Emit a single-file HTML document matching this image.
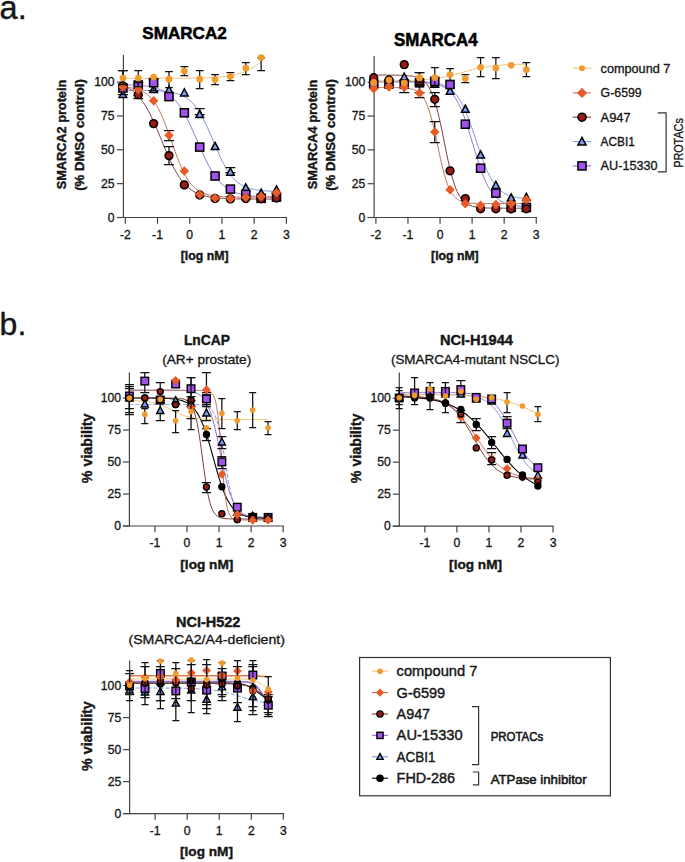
<!DOCTYPE html>
<html><head><meta charset="utf-8"><style>
html,body{margin:0;padding:0;background:#fff;width:685px;height:862px;overflow:hidden}
svg{display:block;font-family:"Liberation Sans",sans-serif}
</style></head><body>
<svg width="685" height="862" viewBox="0 0 685 862" font-family="Liberation Sans, sans-serif">
<rect width="685" height="862" fill="#fff"/>
<text x="-0.4" y="19.4" font-size="32.5" font-weight="normal" text-anchor="start" fill="#161616" stroke="#161616" stroke-width="0.4" >a.</text>
<text x="-0.4" y="335" font-size="32" font-weight="normal" text-anchor="start" fill="#161616" stroke="#161616" stroke-width="0.4" >b.</text>
<text x="184.5" y="39.2" font-size="17" font-weight="bold" text-anchor="middle" fill="#000" stroke="#000" stroke-width="0.55" textLength="84.5" lengthAdjust="spacingAndGlyphs" >SMARCA2</text>
<text transform="translate(66.2 134.5) rotate(-90)" font-size="12.7" font-weight="bold" text-anchor="middle" fill="#161616" stroke="#161616" stroke-width="0.4" textLength="109.5" lengthAdjust="spacingAndGlyphs" >SMARCA2 protein</text>
<text transform="translate(83.7 135) rotate(-90)" font-size="12.7" font-weight="bold" text-anchor="middle" fill="#161616" stroke="#161616" stroke-width="0.4" textLength="111.5" lengthAdjust="spacingAndGlyphs" >(% DMSO control)</text>
<path d="M123.4 55V218.1" stroke="#444" stroke-width="1.2" fill="none"/>
<path d="M116.9 217.5H287" stroke="#444" stroke-width="1.2" fill="none"/>
<path d="M116.9 217.5H123.4" stroke="#444" stroke-width="1.2"/>
<text x="114.6" y="221.5" font-size="12.2" font-weight="normal" text-anchor="end" fill="#161616" stroke="#161616" stroke-width="0.32" >0</text>
<path d="M116.9 183.65H123.4" stroke="#444" stroke-width="1.2"/>
<text x="114.6" y="187.65" font-size="12.2" font-weight="normal" text-anchor="end" fill="#161616" stroke="#161616" stroke-width="0.32" >25</text>
<path d="M116.9 149.8H123.4" stroke="#444" stroke-width="1.2"/>
<text x="114.6" y="153.8" font-size="12.2" font-weight="normal" text-anchor="end" fill="#161616" stroke="#161616" stroke-width="0.32" >50</text>
<path d="M116.9 115.95H123.4" stroke="#444" stroke-width="1.2"/>
<text x="114.6" y="119.95" font-size="12.2" font-weight="normal" text-anchor="end" fill="#161616" stroke="#161616" stroke-width="0.32" >75</text>
<path d="M116.9 82.1H123.4" stroke="#444" stroke-width="1.2"/>
<text x="114.6" y="86.1" font-size="12.2" font-weight="normal" text-anchor="end" fill="#161616" stroke="#161616" stroke-width="0.32" >100</text>
<path d="M125.3 217.5V223.7" stroke="#444" stroke-width="1.2"/>
<text x="125.3" y="238.7" font-size="12.2" font-weight="normal" text-anchor="middle" fill="#161616" stroke="#161616" stroke-width="0.32" >-2</text>
<path d="M157.52 217.5V223.7" stroke="#444" stroke-width="1.2"/>
<text x="157.52" y="238.7" font-size="12.2" font-weight="normal" text-anchor="middle" fill="#161616" stroke="#161616" stroke-width="0.32" >-1</text>
<path d="M189.74 217.5V223.7" stroke="#444" stroke-width="1.2"/>
<text x="189.74" y="238.7" font-size="12.2" font-weight="normal" text-anchor="middle" fill="#161616" stroke="#161616" stroke-width="0.32" >0</text>
<path d="M221.96 217.5V223.7" stroke="#444" stroke-width="1.2"/>
<text x="221.96" y="238.7" font-size="12.2" font-weight="normal" text-anchor="middle" fill="#161616" stroke="#161616" stroke-width="0.32" >1</text>
<path d="M254.18 217.5V223.7" stroke="#444" stroke-width="1.2"/>
<text x="254.18" y="238.7" font-size="12.2" font-weight="normal" text-anchor="middle" fill="#161616" stroke="#161616" stroke-width="0.32" >2</text>
<path d="M286.4 217.5V223.7" stroke="#444" stroke-width="1.2"/>
<text x="286.4" y="238.7" font-size="12.2" font-weight="normal" text-anchor="middle" fill="#161616" stroke="#161616" stroke-width="0.32" >3</text>
<text x="204.6" y="260.3" font-size="12.5" font-weight="bold" text-anchor="middle" fill="#161616" stroke="#161616" stroke-width="0.4" textLength="47.8" lengthAdjust="spacingAndGlyphs" >[log nM]</text>
<path d="M122.9 90.36 L124.19 90.36 L125.48 90.37 L126.77 90.37 L128.06 90.38 L129.35 90.38 L130.64 90.38 L131.94 90.39 L133.23 90.4 L134.52 90.4 L135.81 90.41 L137.1 90.42 L138.39 90.43 L139.68 90.44 L140.97 90.46 L142.26 90.47 L143.55 90.49 L144.84 90.51 L146.13 90.53 L147.42 90.55 L148.72 90.58 L150.01 90.61 L151.3 90.65 L152.59 90.69 L153.88 90.73 L155.17 90.78 L156.46 90.84 L157.75 90.9 L159.04 90.97 L160.33 91.05 L161.62 91.14 L162.91 91.24 L164.2 91.36 L165.49 91.49 L166.79 91.63 L168.08 91.8 L169.37 91.98 L170.66 92.19 L171.95 92.42 L173.24 92.68 L174.53 92.97 L175.82 93.3 L177.11 93.67 L178.4 94.08 L179.69 94.54 L180.98 95.05 L182.27 95.63 L183.57 96.27 L184.86 96.98 L186.15 97.77 L187.44 98.64 L188.73 99.61 L190.02 100.68 L191.31 101.86 L192.6 103.15 L193.89 104.56 L195.18 106.1 L196.47 107.78 L197.76 109.59 L199.05 111.55 L200.35 113.65 L201.64 115.88 L202.93 118.26 L204.22 120.77 L205.51 123.4 L206.8 126.15 L208.09 128.99 L209.38 131.92 L210.67 134.91 L211.96 137.94 L213.25 141 L214.54 144.05 L215.83 147.09 L217.13 150.08 L218.42 153.01 L219.71 155.85 L221 158.6 L222.29 161.23 L223.58 163.74 L224.87 166.11 L226.16 168.35 L227.45 170.45 L228.74 172.41 L230.03 174.22 L231.32 175.9 L232.61 177.44 L233.91 178.85 L235.2 180.15 L236.49 181.32 L237.78 182.39 L239.07 183.36 L240.36 184.24 L241.65 185.03 L242.94 185.74 L244.23 186.38 L245.52 186.95 L246.81 187.47 L248.1 187.93 L249.39 188.34 L250.68 188.71 L251.98 189.04 L253.27 189.33 L254.56 189.59 L255.85 189.82 L257.14 190.03 L258.43 190.21 L259.72 190.38 L261.01 190.52 L262.3 190.65 L263.59 190.76 L264.88 190.87 L266.17 190.96 L267.46 191.04 L268.76 191.11 L270.05 191.17 L271.34 191.23 L272.63 191.28 L273.92 191.32 L275.21 191.36 L276.5 191.4" stroke="#7F98E0" stroke-width="1" fill="none"/>
<path d="M122.9 84.66 L124.19 84.68 L125.48 84.72 L126.77 84.75 L128.06 84.79 L129.35 84.83 L130.64 84.88 L131.94 84.93 L133.23 84.99 L134.52 85.06 L135.81 85.13 L137.1 85.21 L138.39 85.3 L139.68 85.4 L140.97 85.51 L142.26 85.63 L143.55 85.77 L144.84 85.92 L146.13 86.08 L147.42 86.27 L148.72 86.47 L150.01 86.7 L151.3 86.95 L152.59 87.23 L153.88 87.53 L155.17 87.87 L156.46 88.25 L157.75 88.66 L159.04 89.12 L160.33 89.62 L161.62 90.17 L162.91 90.78 L164.2 91.44 L165.49 92.18 L166.79 92.98 L168.08 93.86 L169.37 94.81 L170.66 95.86 L171.95 97 L173.24 98.23 L174.53 99.57 L175.82 101.01 L177.11 102.57 L178.4 104.24 L179.69 106.03 L180.98 107.94 L182.27 109.97 L183.57 112.13 L184.86 114.4 L186.15 116.79 L187.44 119.29 L188.73 121.89 L190.02 124.58 L191.31 127.36 L192.6 130.21 L193.89 133.12 L195.18 136.07 L196.47 139.04 L197.76 142.03 L199.05 145.01 L200.35 147.96 L201.64 150.88 L202.93 153.74 L204.22 156.53 L205.51 159.24 L206.8 161.86 L208.09 164.38 L209.38 166.79 L210.67 169.09 L211.96 171.26 L213.25 173.32 L214.54 175.25 L215.83 177.06 L217.13 178.76 L218.42 180.34 L219.71 181.8 L221 183.16 L222.29 184.41 L223.58 185.56 L224.87 186.63 L226.16 187.6 L227.45 188.49 L228.74 189.31 L230.03 190.05 L231.32 190.73 L232.61 191.35 L233.91 191.91 L235.2 192.42 L236.49 192.89 L237.78 193.31 L239.07 193.69 L240.36 194.03 L241.65 194.35 L242.94 194.63 L244.23 194.88 L245.52 195.12 L246.81 195.32 L248.1 195.51 L249.39 195.68 L250.68 195.83 L251.98 195.97 L253.27 196.1 L254.56 196.21 L255.85 196.31 L257.14 196.4 L258.43 196.48 L259.72 196.56 L261.01 196.62 L262.3 196.68 L263.59 196.74 L264.88 196.79 L266.17 196.83 L267.46 196.87 L268.76 196.91 L270.05 196.94 L271.34 196.97 L272.63 196.99 L273.92 197.02 L275.21 197.04 L276.5 197.06" stroke="#9272D4" stroke-width="1" fill="none"/>
<path d="M122.9 85.6 L124.19 86.1 L125.48 86.66 L126.77 87.27 L128.06 87.94 L129.35 88.68 L130.64 89.49 L131.94 90.37 L133.23 91.35 L134.52 92.41 L135.81 93.56 L137.1 94.82 L138.39 96.18 L139.68 97.66 L140.97 99.25 L142.26 100.97 L143.55 102.81 L144.84 104.78 L146.13 106.88 L147.42 109.1 L148.72 111.46 L150.01 113.94 L151.3 116.54 L152.59 119.26 L153.88 122.07 L155.17 124.99 L156.46 127.98 L157.75 131.03 L159.04 134.14 L160.33 137.28 L161.62 140.44 L162.91 143.59 L164.2 146.72 L165.49 149.82 L166.79 152.86 L168.08 155.83 L169.37 158.72 L170.66 161.51 L171.95 164.2 L173.24 166.77 L174.53 169.21 L175.82 171.54 L177.11 173.73 L178.4 175.8 L179.69 177.73 L180.98 179.54 L182.27 181.22 L183.57 182.79 L184.86 184.23 L186.15 185.57 L187.44 186.8 L188.73 187.93 L190.02 188.96 L191.31 189.91 L192.6 190.78 L193.89 191.57 L195.18 192.29 L196.47 192.94 L197.76 193.54 L199.05 194.08 L200.35 194.57 L201.64 195.01 L202.93 195.41 L204.22 195.78 L205.51 196.11 L206.8 196.4 L208.09 196.67 L209.38 196.91 L210.67 197.13 L211.96 197.33 L213.25 197.51 L214.54 197.67 L215.83 197.81 L217.13 197.94 L218.42 198.06 L219.71 198.16 L221 198.26 L222.29 198.34 L223.58 198.42 L224.87 198.49 L226.16 198.55 L227.45 198.61 L228.74 198.66 L230.03 198.7 L231.32 198.74 L232.61 198.78 L233.91 198.81 L235.2 198.84 L236.49 198.87 L237.78 198.89 L239.07 198.91 L240.36 198.93 L241.65 198.95 L242.94 198.96 L244.23 198.98 L245.52 198.99 L246.81 199 L248.1 199.01 L249.39 199.02 L250.68 199.03 L251.98 199.04 L253.27 199.04 L254.56 199.05 L255.85 199.06 L257.14 199.06 L258.43 199.06 L259.72 199.07 L261.01 199.07 L262.3 199.08 L263.59 199.08 L264.88 199.08 L266.17 199.08 L267.46 199.08 L268.76 199.09 L270.05 199.09 L271.34 199.09 L272.63 199.09 L273.92 199.09 L275.21 199.09 L276.5 199.09" stroke="#7E3E38" stroke-width="1" fill="none"/>
<path d="M122.9 86.91 L124.19 87.01 L125.48 87.13 L126.77 87.26 L128.06 87.41 L129.35 87.58 L130.64 87.78 L131.94 88 L133.23 88.26 L134.52 88.55 L135.81 88.87 L137.1 89.25 L138.39 89.67 L139.68 90.15 L140.97 90.69 L142.26 91.3 L143.55 91.99 L144.84 92.76 L146.13 93.64 L147.42 94.62 L148.72 95.72 L150.01 96.94 L151.3 98.31 L152.59 99.82 L153.88 101.49 L155.17 103.34 L156.46 105.35 L157.75 107.56 L159.04 109.95 L160.33 112.53 L161.62 115.3 L162.91 118.25 L164.2 121.36 L165.49 124.64 L166.79 128.05 L168.08 131.57 L169.37 135.18 L170.66 138.85 L171.95 142.54 L173.24 146.22 L174.53 149.87 L175.82 153.44 L177.11 156.91 L178.4 160.26 L179.69 163.47 L180.98 166.51 L182.27 169.38 L183.57 172.06 L184.86 174.55 L186.15 176.86 L187.44 178.97 L188.73 180.91 L190.02 182.68 L191.31 184.27 L192.6 185.72 L193.89 187.02 L195.18 188.18 L196.47 189.23 L197.76 190.16 L199.05 190.98 L200.35 191.72 L201.64 192.37 L202.93 192.95 L204.22 193.46 L205.51 193.91 L206.8 194.31 L208.09 194.66 L209.38 194.97 L210.67 195.24 L211.96 195.48 L213.25 195.69 L214.54 195.88 L215.83 196.04 L217.13 196.18 L218.42 196.31 L219.71 196.42 L221 196.51 L222.29 196.6 L223.58 196.67 L224.87 196.74 L226.16 196.79 L227.45 196.84 L228.74 196.89 L230.03 196.92 L231.32 196.96 L232.61 196.99 L233.91 197.01 L235.2 197.04 L236.49 197.06 L237.78 197.07 L239.07 197.09 L240.36 197.1 L241.65 197.11 L242.94 197.12 L244.23 197.13 L245.52 197.14 L246.81 197.15 L248.1 197.15 L249.39 197.16 L250.68 197.16 L251.98 197.17 L253.27 197.17 L254.56 197.17 L255.85 197.18 L257.14 197.18 L258.43 197.18 L259.72 197.18 L261.01 197.18 L262.3 197.18 L263.59 197.19 L264.88 197.19 L266.17 197.19 L267.46 197.19 L268.76 197.19 L270.05 197.19 L271.34 197.19 L272.63 197.19 L273.92 197.19 L275.21 197.19 L276.5 197.19" stroke="#C8705A" stroke-width="1" fill="none"/>
<path d="M122.9 78.3 L124.06 78.3 L125.22 78.3 L126.38 78.3 L127.55 78.3 L128.71 78.3 L129.87 78.3 L131.03 78.3 L132.19 78.3 L133.35 78.3 L134.51 78.3 L135.67 78.3 L136.84 78.29 L138 78.29 L139.16 78.29 L140.32 78.29 L141.48 78.29 L142.64 78.29 L143.8 78.29 L144.97 78.29 L146.13 78.29 L147.29 78.29 L148.45 78.29 L149.61 78.29 L150.77 78.29 L151.93 78.29 L153.09 78.28 L154.26 78.28 L155.42 78.28 L156.58 78.28 L157.74 78.28 L158.9 78.28 L160.06 78.27 L161.22 78.27 L162.39 78.27 L163.55 78.27 L164.71 78.27 L165.87 78.26 L167.03 78.26 L168.19 78.26 L169.35 78.25 L170.52 78.25 L171.68 78.25 L172.84 78.24 L174 78.24 L175.16 78.23 L176.32 78.23 L177.48 78.22 L178.64 78.21 L179.81 78.21 L180.97 78.2 L182.13 78.19 L183.29 78.18 L184.45 78.17 L185.61 78.16 L186.77 78.15 L187.94 78.14 L189.1 78.13 L190.26 78.11 L191.42 78.1 L192.58 78.08 L193.74 78.06 L194.9 78.05 L196.06 78.02 L197.23 78 L198.39 77.98 L199.55 77.95 L200.71 77.93 L201.87 77.9 L203.03 77.86 L204.19 77.83 L205.36 77.79 L206.52 77.75 L207.68 77.71 L208.84 77.66 L210 77.61 L211.16 77.55 L212.32 77.49 L213.48 77.43 L214.65 77.36 L215.81 77.28 L216.97 77.2 L218.13 77.12 L219.29 77.02 L220.45 76.92 L221.61 76.81 L222.78 76.69 L223.94 76.57 L225.1 76.43 L226.26 76.29 L227.42 76.13 L228.58 75.96 L229.74 75.78 L230.91 75.58 L232.07 75.37 L233.23 75.14 L234.39 74.9 L235.55 74.64 L236.71 74.36 L237.87 74.06 L239.03 73.73 L240.2 73.39 L241.36 73.02 L242.52 72.62 L243.68 72.2 L244.84 71.75 L246 71.27 L247.16 70.76 L248.33 70.21 L249.49 69.63 L250.65 69.02 L251.81 68.36 L252.97 67.67 L254.13 66.93 L255.29 66.16 L256.45 65.34 L257.62 64.47 L258.78 63.57 L259.94 62.61 L261.1 61.61" stroke="#F0C070" stroke-width="1" fill="none"/>
<path d="M199.7 108.5V114.5M194.7 108.5H204.7M194.7 114.5H204.7" stroke="#111" stroke-width="1.25" fill="none"/>
<path d="M230.42 167.5V172.5M225.42 167.5H235.42M225.42 172.5H235.42" stroke="#111" stroke-width="1.25" fill="none"/>
<path d="M122.9 90.26L126.71 97.42L119.09 97.42Z" fill="#7F9DF7" stroke="#000" stroke-width="1.5" stroke-linejoin="miter"/>
<path d="M138.26 88.06L142.07 95.22L134.45 95.22Z" fill="#7F9DF7" stroke="#000" stroke-width="1.5" stroke-linejoin="miter"/>
<path d="M153.62 85.46L157.43 92.62L149.81 92.62Z" fill="#7F9DF7" stroke="#000" stroke-width="1.5" stroke-linejoin="miter"/>
<path d="M168.98 86.06L172.79 93.22L165.17 93.22Z" fill="#7F9DF7" stroke="#000" stroke-width="1.5" stroke-linejoin="miter"/>
<path d="M184.34 88.76L188.15 95.92L180.53 95.92Z" fill="#7F9DF7" stroke="#000" stroke-width="1.5" stroke-linejoin="miter"/>
<path d="M199.7 110.46L203.51 117.62L195.89 117.62Z" fill="#7F9DF7" stroke="#000" stroke-width="1.5" stroke-linejoin="miter"/>
<path d="M215.06 142.46L218.87 149.62L211.25 149.62Z" fill="#7F9DF7" stroke="#000" stroke-width="1.5" stroke-linejoin="miter"/>
<path d="M230.42 168.06L234.23 175.22L226.61 175.22Z" fill="#7F9DF7" stroke="#000" stroke-width="1.5" stroke-linejoin="miter"/>
<path d="M245.78 183.86L249.59 191.02L241.97 191.02Z" fill="#7F9DF7" stroke="#000" stroke-width="1.5" stroke-linejoin="miter"/>
<path d="M261.14 189.06L264.95 196.22L257.33 196.22Z" fill="#7F9DF7" stroke="#000" stroke-width="1.5" stroke-linejoin="miter"/>
<path d="M276.5 185.86L280.31 193.02L272.69 193.02Z" fill="#7F9DF7" stroke="#000" stroke-width="1.5" stroke-linejoin="miter"/>
<path d="M153.62 78.5V90.5M148.62 78.5H158.62M148.62 90.5H158.62" stroke="#111" stroke-width="1.25" fill="none"/>
<rect x="118.85" y="83.95" width="8.1" height="8.1" fill="#A152EE" stroke="#000" stroke-width="1.5"/>
<rect x="134.21" y="80.95" width="8.1" height="8.1" fill="#A152EE" stroke="#000" stroke-width="1.5"/>
<rect x="149.57" y="78.65" width="8.1" height="8.1" fill="#A152EE" stroke="#000" stroke-width="1.5"/>
<rect x="164.93" y="92.55" width="8.1" height="8.1" fill="#A152EE" stroke="#000" stroke-width="1.5"/>
<rect x="180.29" y="108.75" width="8.1" height="8.1" fill="#A152EE" stroke="#000" stroke-width="1.5"/>
<rect x="195.65" y="143.05" width="8.1" height="8.1" fill="#A152EE" stroke="#000" stroke-width="1.5"/>
<rect x="211.01" y="171.95" width="8.1" height="8.1" fill="#A152EE" stroke="#000" stroke-width="1.5"/>
<rect x="226.37" y="185.05" width="8.1" height="8.1" fill="#A152EE" stroke="#000" stroke-width="1.5"/>
<rect x="241.73" y="190.35" width="8.1" height="8.1" fill="#A152EE" stroke="#000" stroke-width="1.5"/>
<rect x="257.09" y="194.25" width="8.1" height="8.1" fill="#A152EE" stroke="#000" stroke-width="1.5"/>
<rect x="272.45" y="192.95" width="8.1" height="8.1" fill="#A152EE" stroke="#000" stroke-width="1.5"/>
<path d="M122.9 70.5V94.5M117.9 70.5H127.9M117.9 94.5H127.9" stroke="#111" stroke-width="1.25" fill="none"/>
<path d="M138.26 82.5V98.5M133.26 82.5H143.26M133.26 98.5H143.26" stroke="#111" stroke-width="1.25" fill="none"/>
<path d="M168.98 146.5V164.5M163.98 146.5H173.98M163.98 164.5H173.98" stroke="#111" stroke-width="1.25" fill="none"/>
<circle cx="122.9" cy="86" r="3.91" fill="#9A1A16" stroke="#000" stroke-width="1.5"/>
<circle cx="138.26" cy="94.7" r="3.91" fill="#9A1A16" stroke="#000" stroke-width="1.5"/>
<circle cx="153.62" cy="123.6" r="3.91" fill="#9A1A16" stroke="#000" stroke-width="1.5"/>
<circle cx="168.98" cy="155.6" r="3.91" fill="#9A1A16" stroke="#000" stroke-width="1.5"/>
<circle cx="184.34" cy="184.9" r="3.91" fill="#9A1A16" stroke="#000" stroke-width="1.5"/>
<circle cx="199.7" cy="195" r="3.91" fill="#9A1A16" stroke="#000" stroke-width="1.5"/>
<circle cx="215.06" cy="198.5" r="3.91" fill="#9A1A16" stroke="#000" stroke-width="1.5"/>
<circle cx="230.42" cy="199" r="3.91" fill="#9A1A16" stroke="#000" stroke-width="1.5"/>
<circle cx="245.78" cy="198.5" r="3.91" fill="#9A1A16" stroke="#000" stroke-width="1.5"/>
<circle cx="261.14" cy="198.8" r="3.91" fill="#9A1A16" stroke="#000" stroke-width="1.5"/>
<circle cx="276.5" cy="198" r="3.91" fill="#9A1A16" stroke="#000" stroke-width="1.5"/>
<path d="M168.98 130.5V140.5M163.98 130.5H173.98M163.98 140.5H173.98" stroke="#111" stroke-width="1.25" fill="none"/>
<path d="M122.9 82.24L127.66 87L122.9 91.76L118.14 87Z" fill="#E85A28"/>
<path d="M138.26 84.74L143.02 89.5L138.26 94.26L133.5 89.5Z" fill="#E85A28"/>
<path d="M153.62 96.04L158.38 100.8L153.62 105.56L148.86 100.8Z" fill="#E85A28"/>
<path d="M168.98 130.54L173.74 135.3L168.98 140.06L164.22 135.3Z" fill="#E85A28"/>
<path d="M184.34 166.24L189.1 171L184.34 175.76L179.58 171Z" fill="#E85A28"/>
<path d="M199.7 189.64L204.46 194.4L199.7 199.16L194.94 194.4Z" fill="#E85A28"/>
<path d="M215.06 193.24L219.82 198L215.06 202.76L210.3 198Z" fill="#E85A28"/>
<path d="M230.42 193.84L235.18 198.6L230.42 203.36L225.66 198.6Z" fill="#E85A28"/>
<path d="M245.78 192.54L250.54 197.3L245.78 202.06L241.02 197.3Z" fill="#E85A28"/>
<path d="M261.14 191.64L265.9 196.4L261.14 201.16L256.38 196.4Z" fill="#E85A28"/>
<path d="M276.5 188.04L281.26 192.8L276.5 197.56L271.74 192.8Z" fill="#E85A28"/>
<path d="M122.9 70.5V84.5M119 70.5H126.8M119 84.5H126.8" stroke="#111" stroke-width="1.25" fill="none"/>
<path d="M138.26 70.5V86.5M134.36 70.5H142.16M134.36 86.5H142.16" stroke="#111" stroke-width="1.25" fill="none"/>
<path d="M168.98 71.5V87.5M165.08 71.5H172.88M165.08 87.5H172.88" stroke="#111" stroke-width="1.25" fill="none"/>
<path d="M184.34 66.5V75.5M180.44 66.5H188.24M180.44 75.5H188.24" stroke="#111" stroke-width="1.25" fill="none"/>
<path d="M199.7 70.5V88.5M195.8 70.5H203.6M195.8 88.5H203.6" stroke="#111" stroke-width="1.25" fill="none"/>
<path d="M215.06 74.5V84.5M211.16 74.5H218.96M211.16 84.5H218.96" stroke="#111" stroke-width="1.25" fill="none"/>
<path d="M230.42 72.5V80.5M226.52 72.5H234.32M226.52 80.5H234.32" stroke="#111" stroke-width="1.25" fill="none"/>
<path d="M245.78 62.5V74.5M241.88 62.5H249.68M241.88 74.5H249.68" stroke="#111" stroke-width="1.25" fill="none"/>
<path d="M261.14 57.5V70.5M257.24 57.5H265.04M257.24 70.5H265.04" stroke="#111" stroke-width="1.25" fill="none"/>
<circle cx="122.9" cy="78" r="3.36" fill="#F09A2C"/>
<circle cx="138.26" cy="78" r="3.36" fill="#F09A2C"/>
<circle cx="153.62" cy="77" r="3.36" fill="#F09A2C"/>
<circle cx="168.98" cy="79.2" r="3.36" fill="#F09A2C"/>
<circle cx="184.34" cy="71" r="3.36" fill="#F09A2C"/>
<circle cx="199.7" cy="79.2" r="3.36" fill="#F09A2C"/>
<circle cx="215.06" cy="79.6" r="3.36" fill="#F09A2C"/>
<circle cx="230.42" cy="76.3" r="3.36" fill="#F09A2C"/>
<circle cx="245.78" cy="68.1" r="3.36" fill="#F09A2C"/>
<circle cx="261.14" cy="57.6" r="3.36" fill="#F09A2C"/>
<text x="435.8" y="45.6" font-size="17.5" font-weight="bold" text-anchor="middle" fill="#000" stroke="#000" stroke-width="0.55" textLength="83.5" lengthAdjust="spacingAndGlyphs" >SMARCA4</text>
<text transform="translate(317.2 134.5) rotate(-90)" font-size="12.7" font-weight="bold" text-anchor="middle" fill="#161616" stroke="#161616" stroke-width="0.4" textLength="109.5" lengthAdjust="spacingAndGlyphs" >SMARCA4 protein</text>
<text transform="translate(334.7 135) rotate(-90)" font-size="12.7" font-weight="bold" text-anchor="middle" fill="#161616" stroke="#161616" stroke-width="0.4" textLength="111.5" lengthAdjust="spacingAndGlyphs" >(% DMSO control)</text>
<path d="M374.1 56V218.1" stroke="#444" stroke-width="1.2" fill="none"/>
<path d="M367.6 217.5H536.9" stroke="#444" stroke-width="1.2" fill="none"/>
<path d="M367.6 217.5H374.1" stroke="#444" stroke-width="1.2"/>
<text x="365.3" y="221.5" font-size="12.2" font-weight="normal" text-anchor="end" fill="#161616" stroke="#161616" stroke-width="0.32" >0</text>
<path d="M367.6 183.7H374.1" stroke="#444" stroke-width="1.2"/>
<text x="365.3" y="187.7" font-size="12.2" font-weight="normal" text-anchor="end" fill="#161616" stroke="#161616" stroke-width="0.32" >25</text>
<path d="M367.6 149.9H374.1" stroke="#444" stroke-width="1.2"/>
<text x="365.3" y="153.9" font-size="12.2" font-weight="normal" text-anchor="end" fill="#161616" stroke="#161616" stroke-width="0.32" >50</text>
<path d="M367.6 116.1H374.1" stroke="#444" stroke-width="1.2"/>
<text x="365.3" y="120.1" font-size="12.2" font-weight="normal" text-anchor="end" fill="#161616" stroke="#161616" stroke-width="0.32" >75</text>
<path d="M367.6 82.3H374.1" stroke="#444" stroke-width="1.2"/>
<text x="365.3" y="86.3" font-size="12.2" font-weight="normal" text-anchor="end" fill="#161616" stroke="#161616" stroke-width="0.32" >100</text>
<path d="M375.9 217.5V223.7" stroke="#444" stroke-width="1.2"/>
<text x="375.9" y="238.7" font-size="12.2" font-weight="normal" text-anchor="middle" fill="#161616" stroke="#161616" stroke-width="0.32" >-2</text>
<path d="M407.97 217.5V223.7" stroke="#444" stroke-width="1.2"/>
<text x="407.97" y="238.7" font-size="12.2" font-weight="normal" text-anchor="middle" fill="#161616" stroke="#161616" stroke-width="0.32" >-1</text>
<path d="M440.04 217.5V223.7" stroke="#444" stroke-width="1.2"/>
<text x="440.04" y="238.7" font-size="12.2" font-weight="normal" text-anchor="middle" fill="#161616" stroke="#161616" stroke-width="0.32" >0</text>
<path d="M472.11 217.5V223.7" stroke="#444" stroke-width="1.2"/>
<text x="472.11" y="238.7" font-size="12.2" font-weight="normal" text-anchor="middle" fill="#161616" stroke="#161616" stroke-width="0.32" >1</text>
<path d="M504.18 217.5V223.7" stroke="#444" stroke-width="1.2"/>
<text x="504.18" y="238.7" font-size="12.2" font-weight="normal" text-anchor="middle" fill="#161616" stroke="#161616" stroke-width="0.32" >2</text>
<path d="M536.25 217.5V223.7" stroke="#444" stroke-width="1.2"/>
<text x="536.25" y="238.7" font-size="12.2" font-weight="normal" text-anchor="middle" fill="#161616" stroke="#161616" stroke-width="0.32" >3</text>
<text x="454.9" y="260.3" font-size="12.5" font-weight="bold" text-anchor="middle" fill="#161616" stroke="#161616" stroke-width="0.4" textLength="47.6" lengthAdjust="spacingAndGlyphs" >[log nM]</text>
<path d="M373.7 81.2 L374.98 81.2 L376.27 81.2 L377.55 81.2 L378.83 81.2 L380.12 81.2 L381.4 81.21 L382.68 81.21 L383.97 81.21 L385.25 81.21 L386.53 81.21 L387.82 81.21 L389.1 81.21 L390.38 81.22 L391.66 81.22 L392.95 81.22 L394.23 81.22 L395.51 81.23 L396.8 81.23 L398.08 81.24 L399.36 81.24 L400.65 81.25 L401.93 81.26 L403.21 81.26 L404.5 81.27 L405.78 81.28 L407.06 81.29 L408.35 81.31 L409.63 81.32 L410.91 81.34 L412.2 81.36 L413.48 81.38 L414.76 81.41 L416.05 81.44 L417.33 81.48 L418.61 81.51 L419.89 81.56 L421.18 81.61 L422.46 81.67 L423.74 81.73 L425.03 81.81 L426.31 81.9 L427.59 81.99 L428.88 82.11 L430.16 82.23 L431.44 82.38 L432.73 82.54 L434.01 82.73 L435.29 82.95 L436.58 83.19 L437.86 83.47 L439.14 83.78 L440.43 84.14 L441.71 84.54 L442.99 85 L444.28 85.52 L445.56 86.1 L446.84 86.77 L448.13 87.51 L449.41 88.35 L450.69 89.29 L451.97 90.35 L453.26 91.54 L454.54 92.85 L455.82 94.32 L457.11 95.95 L458.39 97.74 L459.67 99.72 L460.96 101.88 L462.24 104.24 L463.52 106.8 L464.81 109.55 L466.09 112.5 L467.37 115.64 L468.66 118.96 L469.94 122.44 L471.22 126.06 L472.51 129.79 L473.79 133.62 L475.07 137.5 L476.36 141.41 L477.64 145.3 L478.92 149.15 L480.21 152.93 L481.49 156.6 L482.77 160.13 L484.05 163.51 L485.34 166.72 L486.62 169.75 L487.9 172.58 L489.19 175.21 L490.47 177.65 L491.75 179.88 L493.04 181.93 L494.32 183.8 L495.6 185.49 L496.89 187.01 L498.17 188.39 L499.45 189.62 L500.74 190.73 L502.02 191.72 L503.3 192.59 L504.59 193.38 L505.87 194.07 L507.15 194.68 L508.44 195.23 L509.72 195.71 L511 196.13 L512.28 196.51 L513.57 196.84 L514.85 197.13 L516.13 197.38 L517.42 197.61 L518.7 197.81 L519.98 197.98 L521.27 198.13 L522.55 198.27 L523.83 198.38 L525.12 198.49 L526.4 198.58" stroke="#7F98E0" stroke-width="1" fill="none"/>
<path d="M373.7 81.96 L374.98 81.96 L376.27 81.97 L377.55 81.97 L378.83 81.97 L380.12 81.97 L381.4 81.97 L382.68 81.97 L383.97 81.97 L385.25 81.97 L386.53 81.97 L387.82 81.97 L389.1 81.98 L390.38 81.98 L391.66 81.98 L392.95 81.98 L394.23 81.99 L395.51 81.99 L396.8 81.99 L398.08 82 L399.36 82 L400.65 82.01 L401.93 82.02 L403.21 82.03 L404.5 82.04 L405.78 82.05 L407.06 82.06 L408.35 82.08 L409.63 82.09 L410.91 82.11 L412.2 82.13 L413.48 82.16 L414.76 82.19 L416.05 82.22 L417.33 82.26 L418.61 82.31 L419.89 82.36 L421.18 82.42 L422.46 82.49 L423.74 82.56 L425.03 82.65 L426.31 82.75 L427.59 82.87 L428.88 83.01 L430.16 83.16 L431.44 83.34 L432.73 83.54 L434.01 83.77 L435.29 84.04 L436.58 84.34 L437.86 84.69 L439.14 85.08 L440.43 85.54 L441.71 86.05 L442.99 86.64 L444.28 87.3 L445.56 88.06 L446.84 88.92 L448.13 89.89 L449.41 90.99 L450.69 92.22 L451.97 93.61 L453.26 95.16 L454.54 96.9 L455.82 98.82 L457.11 100.95 L458.39 103.3 L459.67 105.87 L460.96 108.67 L462.24 111.7 L463.52 114.97 L464.81 118.45 L466.09 122.14 L467.37 126.01 L468.66 130.05 L469.94 134.22 L471.22 138.48 L472.51 142.8 L473.79 147.14 L475.07 151.45 L476.36 155.69 L477.64 159.83 L478.92 163.83 L480.21 167.66 L481.49 171.29 L482.77 174.72 L484.05 177.92 L485.34 180.89 L486.62 183.63 L487.9 186.14 L489.19 188.43 L490.47 190.51 L491.75 192.38 L493.04 194.07 L494.32 195.57 L495.6 196.92 L496.89 198.12 L498.17 199.18 L499.45 200.12 L500.74 200.95 L502.02 201.68 L503.3 202.33 L504.59 202.9 L505.87 203.39 L507.15 203.83 L508.44 204.21 L509.72 204.55 L511 204.84 L512.28 205.1 L513.57 205.32 L514.85 205.52 L516.13 205.69 L517.42 205.84 L518.7 205.97 L519.98 206.08 L521.27 206.18 L522.55 206.26 L523.83 206.34 L525.12 206.4 L526.4 206.46" stroke="#9272D4" stroke-width="1" fill="none"/>
<path d="M373.7 75.08 L374.98 75.08 L376.27 75.08 L377.55 75.09 L378.83 75.09 L380.12 75.09 L381.4 75.09 L382.68 75.09 L383.97 75.1 L385.25 75.1 L386.53 75.1 L387.82 75.11 L389.1 75.11 L390.38 75.12 L391.66 75.13 L392.95 75.14 L394.23 75.15 L395.51 75.17 L396.8 75.19 L398.08 75.21 L399.36 75.24 L400.65 75.27 L401.93 75.31 L403.21 75.36 L404.5 75.43 L405.78 75.5 L407.06 75.59 L408.35 75.69 L409.63 75.82 L410.91 75.98 L412.2 76.17 L413.48 76.4 L414.76 76.67 L416.05 77.01 L417.33 77.41 L418.61 77.89 L419.89 78.47 L421.18 79.17 L422.46 80 L423.74 81 L425.03 82.19 L426.31 83.6 L427.59 85.27 L428.88 87.23 L430.16 89.53 L431.44 92.2 L432.73 95.28 L434.01 98.8 L435.29 102.79 L436.58 107.24 L437.86 112.16 L439.14 117.52 L440.43 123.26 L441.71 129.31 L442.99 135.58 L444.28 141.97 L445.56 148.34 L446.84 154.6 L448.13 160.62 L449.41 166.33 L450.69 171.64 L451.97 176.51 L453.26 180.92 L454.54 184.85 L455.82 188.33 L457.11 191.36 L458.39 193.99 L459.67 196.25 L460.96 198.19 L462.24 199.83 L463.52 201.21 L464.81 202.38 L466.09 203.36 L467.37 204.18 L468.66 204.87 L469.94 205.44 L471.22 205.91 L472.51 206.3 L473.79 206.63 L475.07 206.9 L476.36 207.13 L477.64 207.31 L478.92 207.46 L480.21 207.59 L481.49 207.7 L482.77 207.78 L484.05 207.85 L485.34 207.91 L486.62 207.96 L487.9 208 L489.19 208.04 L490.47 208.06 L491.75 208.09 L493.04 208.1 L494.32 208.12 L495.6 208.13 L496.89 208.14 L498.17 208.15 L499.45 208.16 L500.74 208.17 L502.02 208.17 L503.3 208.17 L504.59 208.18 L505.87 208.18 L507.15 208.18 L508.44 208.18 L509.72 208.19 L511 208.19 L512.28 208.19 L513.57 208.19 L514.85 208.19 L516.13 208.19 L517.42 208.19 L518.7 208.19 L519.98 208.19 L521.27 208.19 L522.55 208.19 L523.83 208.19 L525.12 208.19 L526.4 208.19" stroke="#7E3E38" stroke-width="1" fill="none"/>
<path d="M373.7 87.47 L374.98 87.47 L376.27 87.47 L377.55 87.47 L378.83 87.47 L380.12 87.48 L381.4 87.48 L382.68 87.48 L383.97 87.48 L385.25 87.49 L386.53 87.49 L387.82 87.5 L389.1 87.51 L390.38 87.52 L391.66 87.53 L392.95 87.54 L394.23 87.56 L395.51 87.58 L396.8 87.61 L398.08 87.64 L399.36 87.68 L400.65 87.73 L401.93 87.79 L403.21 87.87 L404.5 87.96 L405.78 88.08 L407.06 88.22 L408.35 88.39 L409.63 88.61 L410.91 88.87 L412.2 89.2 L413.48 89.6 L414.76 90.09 L416.05 90.69 L417.33 91.42 L418.61 92.3 L419.89 93.38 L421.18 94.68 L422.46 96.25 L423.74 98.12 L425.03 100.34 L426.31 102.96 L427.59 106.02 L428.88 109.55 L430.16 113.56 L431.44 118.07 L432.73 123.05 L434.01 128.46 L435.29 134.21 L436.58 140.2 L437.86 146.3 L439.14 152.39 L440.43 158.33 L441.71 164 L442.99 169.3 L444.28 174.17 L445.56 178.55 L446.84 182.44 L448.13 185.85 L449.41 188.79 L450.69 191.31 L451.97 193.44 L453.26 195.23 L454.54 196.72 L455.82 197.96 L457.11 198.99 L458.39 199.83 L459.67 200.53 L460.96 201.1 L462.24 201.56 L463.52 201.94 L464.81 202.25 L466.09 202.5 L467.37 202.7 L468.66 202.87 L469.94 203 L471.22 203.11 L472.51 203.2 L473.79 203.27 L475.07 203.33 L476.36 203.38 L477.64 203.42 L478.92 203.45 L480.21 203.48 L481.49 203.5 L482.77 203.51 L484.05 203.53 L485.34 203.54 L486.62 203.55 L487.9 203.55 L489.19 203.56 L490.47 203.56 L491.75 203.57 L493.04 203.57 L494.32 203.57 L495.6 203.57 L496.89 203.58 L498.17 203.58 L499.45 203.58 L500.74 203.58 L502.02 203.58 L503.3 203.58 L504.59 203.58 L505.87 203.58 L507.15 203.58 L508.44 203.58 L509.72 203.58 L511 203.58 L512.28 203.58 L513.57 203.58 L514.85 203.58 L516.13 203.58 L517.42 203.58 L518.7 203.58 L519.98 203.58 L521.27 203.58 L522.55 203.58 L523.83 203.58 L525.12 203.58 L526.4 203.58" stroke="#C8705A" stroke-width="1" fill="none"/>
<path d="M373.7 80.95 L374.98 80.95 L376.27 80.94 L377.55 80.94 L378.83 80.93 L380.12 80.93 L381.4 80.92 L382.68 80.91 L383.97 80.91 L385.25 80.9 L386.53 80.89 L387.82 80.88 L389.1 80.87 L390.38 80.86 L391.66 80.85 L392.95 80.83 L394.23 80.82 L395.51 80.8 L396.8 80.78 L398.08 80.76 L399.36 80.74 L400.65 80.72 L401.93 80.7 L403.21 80.67 L404.5 80.64 L405.78 80.61 L407.06 80.57 L408.35 80.54 L409.63 80.5 L410.91 80.45 L412.2 80.41 L413.48 80.36 L414.76 80.3 L416.05 80.24 L417.33 80.18 L418.61 80.11 L419.89 80.03 L421.18 79.95 L422.46 79.86 L423.74 79.77 L425.03 79.67 L426.31 79.56 L427.59 79.44 L428.88 79.32 L430.16 79.18 L431.44 79.04 L432.73 78.89 L434.01 78.72 L435.29 78.55 L436.58 78.36 L437.86 78.17 L439.14 77.96 L440.43 77.74 L441.71 77.51 L442.99 77.26 L444.28 77.01 L445.56 76.74 L446.84 76.46 L448.13 76.17 L449.41 75.87 L450.69 75.56 L451.97 75.24 L453.26 74.91 L454.54 74.57 L455.82 74.23 L457.11 73.87 L458.39 73.52 L459.67 73.16 L460.96 72.8 L462.24 72.43 L463.52 72.07 L464.81 71.71 L466.09 71.35 L467.37 70.99 L468.66 70.64 L469.94 70.3 L471.22 69.97 L472.51 69.64 L473.79 69.32 L475.07 69.01 L476.36 68.72 L477.64 68.43 L478.92 68.16 L480.21 67.89 L481.49 67.64 L482.77 67.4 L484.05 67.18 L485.34 66.96 L486.62 66.76 L487.9 66.57 L489.19 66.39 L490.47 66.22 L491.75 66.06 L493.04 65.91 L494.32 65.77 L495.6 65.64 L496.89 65.51 L498.17 65.4 L499.45 65.29 L500.74 65.19 L502.02 65.1 L503.3 65.02 L504.59 64.94 L505.87 64.87 L507.15 64.8 L508.44 64.74 L509.72 64.68 L511 64.62 L512.28 64.57 L513.57 64.53 L514.85 64.49 L516.13 64.45 L517.42 64.41 L518.7 64.38 L519.98 64.35 L521.27 64.32 L522.55 64.29 L523.83 64.27 L525.12 64.25 L526.4 64.23" stroke="#F0C070" stroke-width="1" fill="none"/>
<path d="M373.7 78.06L377.51 85.22L369.89 85.22Z" fill="#7F9DF7" stroke="#000" stroke-width="1.5" stroke-linejoin="miter"/>
<path d="M388.97 78.06L392.78 85.22L385.16 85.22Z" fill="#7F9DF7" stroke="#000" stroke-width="1.5" stroke-linejoin="miter"/>
<path d="M404.24 73.06L408.05 80.22L400.43 80.22Z" fill="#7F9DF7" stroke="#000" stroke-width="1.5" stroke-linejoin="miter"/>
<path d="M419.51 78.06L423.32 85.22L415.7 85.22Z" fill="#7F9DF7" stroke="#000" stroke-width="1.5" stroke-linejoin="miter"/>
<path d="M434.78 80.06L438.59 87.22L430.97 87.22Z" fill="#7F9DF7" stroke="#000" stroke-width="1.5" stroke-linejoin="miter"/>
<path d="M450.05 87.06L453.86 94.22L446.24 94.22Z" fill="#7F9DF7" stroke="#000" stroke-width="1.5" stroke-linejoin="miter"/>
<path d="M465.32 105.16L469.13 112.32L461.51 112.32Z" fill="#7F9DF7" stroke="#000" stroke-width="1.5" stroke-linejoin="miter"/>
<path d="M480.59 150.86L484.4 158.02L476.78 158.02Z" fill="#7F9DF7" stroke="#000" stroke-width="1.5" stroke-linejoin="miter"/>
<path d="M495.86 181.26L499.67 188.42L492.05 188.42Z" fill="#7F9DF7" stroke="#000" stroke-width="1.5" stroke-linejoin="miter"/>
<path d="M511.13 193.96L514.94 201.12L507.32 201.12Z" fill="#7F9DF7" stroke="#000" stroke-width="1.5" stroke-linejoin="miter"/>
<path d="M526.4 193.26L530.21 200.42L522.59 200.42Z" fill="#7F9DF7" stroke="#000" stroke-width="1.5" stroke-linejoin="miter"/>
<rect x="369.65" y="79.95" width="8.1" height="8.1" fill="#A152EE" stroke="#000" stroke-width="1.5"/>
<rect x="384.92" y="79.95" width="8.1" height="8.1" fill="#A152EE" stroke="#000" stroke-width="1.5"/>
<rect x="400.19" y="79.95" width="8.1" height="8.1" fill="#A152EE" stroke="#000" stroke-width="1.5"/>
<rect x="415.46" y="78.75" width="8.1" height="8.1" fill="#A152EE" stroke="#000" stroke-width="1.5"/>
<rect x="430.73" y="77.35" width="8.1" height="8.1" fill="#A152EE" stroke="#000" stroke-width="1.5"/>
<rect x="446" y="80.45" width="8.1" height="8.1" fill="#A152EE" stroke="#000" stroke-width="1.5"/>
<rect x="461.27" y="120.15" width="8.1" height="8.1" fill="#A152EE" stroke="#000" stroke-width="1.5"/>
<rect x="476.54" y="164.15" width="8.1" height="8.1" fill="#A152EE" stroke="#000" stroke-width="1.5"/>
<rect x="491.81" y="189.05" width="8.1" height="8.1" fill="#A152EE" stroke="#000" stroke-width="1.5"/>
<rect x="507.08" y="203.35" width="8.1" height="8.1" fill="#A152EE" stroke="#000" stroke-width="1.5"/>
<rect x="522.35" y="203.35" width="8.1" height="8.1" fill="#A152EE" stroke="#000" stroke-width="1.5"/>
<path d="M419.51 72.5V92.5M414.51 72.5H424.51M414.51 92.5H424.51" stroke="#111" stroke-width="1.25" fill="none"/>
<path d="M434.78 92.5V106.5M429.78 92.5H439.78M429.78 106.5H439.78" stroke="#111" stroke-width="1.25" fill="none"/>
<circle cx="373.7" cy="77.7" r="3.91" fill="#9A1A16" stroke="#000" stroke-width="1.5"/>
<circle cx="388.97" cy="80" r="3.91" fill="#9A1A16" stroke="#000" stroke-width="1.5"/>
<circle cx="404.24" cy="64.6" r="3.91" fill="#9A1A16" stroke="#000" stroke-width="1.5"/>
<circle cx="419.51" cy="82.8" r="3.91" fill="#9A1A16" stroke="#000" stroke-width="1.5"/>
<circle cx="434.78" cy="99.3" r="3.91" fill="#9A1A16" stroke="#000" stroke-width="1.5"/>
<circle cx="450.05" cy="170.8" r="3.91" fill="#9A1A16" stroke="#000" stroke-width="1.5"/>
<circle cx="465.32" cy="198.6" r="3.91" fill="#9A1A16" stroke="#000" stroke-width="1.5"/>
<circle cx="480.59" cy="208.8" r="3.91" fill="#9A1A16" stroke="#000" stroke-width="1.5"/>
<circle cx="495.86" cy="208.8" r="3.91" fill="#9A1A16" stroke="#000" stroke-width="1.5"/>
<circle cx="511.13" cy="208.8" r="3.91" fill="#9A1A16" stroke="#000" stroke-width="1.5"/>
<circle cx="526.4" cy="208.8" r="3.91" fill="#9A1A16" stroke="#000" stroke-width="1.5"/>
<path d="M404.24 80.5V92.5M399.24 80.5H409.24M399.24 92.5H409.24" stroke="#111" stroke-width="1.25" fill="none"/>
<path d="M419.51 84.5V97.5M414.51 84.5H424.51M414.51 97.5H424.51" stroke="#111" stroke-width="1.25" fill="none"/>
<path d="M434.78 121.5V142.5M429.78 121.5H439.78M429.78 142.5H439.78" stroke="#111" stroke-width="1.25" fill="none"/>
<path d="M373.7 83.94L378.46 88.7L373.7 93.46L368.94 88.7Z" fill="#E85A28"/>
<path d="M388.97 82.24L393.73 87L388.97 91.76L384.21 87Z" fill="#E85A28"/>
<path d="M404.24 82.44L409 87.2L404.24 91.96L399.48 87.2Z" fill="#E85A28"/>
<path d="M419.51 88.24L424.27 93L419.51 97.76L414.75 93Z" fill="#E85A28"/>
<path d="M434.78 127.24L439.54 132L434.78 136.76L430.02 132Z" fill="#E85A28"/>
<path d="M450.05 184.94L454.81 189.7L450.05 194.46L445.29 189.7Z" fill="#E85A28"/>
<path d="M465.32 198.94L470.08 203.7L465.32 208.46L460.56 203.7Z" fill="#E85A28"/>
<path d="M480.59 200.44L485.35 205.2L480.59 209.96L475.83 205.2Z" fill="#E85A28"/>
<path d="M495.86 199.74L500.62 204.5L495.86 209.26L491.1 204.5Z" fill="#E85A28"/>
<path d="M511.13 198.94L515.89 203.7L511.13 208.46L506.37 203.7Z" fill="#E85A28"/>
<path d="M526.4 195.04L531.16 199.8L526.4 204.56L521.64 199.8Z" fill="#E85A28"/>
<path d="M419.51 72.5V82.5M415.61 72.5H423.41M415.61 82.5H423.41" stroke="#111" stroke-width="1.25" fill="none"/>
<path d="M434.78 67.5V86.5M430.88 67.5H438.68M430.88 86.5H438.68" stroke="#111" stroke-width="1.25" fill="none"/>
<path d="M450.05 68.5V80.5M446.15 68.5H453.95M446.15 80.5H453.95" stroke="#111" stroke-width="1.25" fill="none"/>
<path d="M465.32 74.5V82.5M461.42 74.5H469.22M461.42 82.5H469.22" stroke="#111" stroke-width="1.25" fill="none"/>
<path d="M480.59 57.5V76.5M476.69 57.5H484.49M476.69 76.5H484.49" stroke="#111" stroke-width="1.25" fill="none"/>
<path d="M495.86 57.5V78.5M491.96 57.5H499.76M491.96 78.5H499.76" stroke="#111" stroke-width="1.25" fill="none"/>
<path d="M526.4 62.5V76.5M522.5 62.5H530.3M522.5 76.5H530.3" stroke="#111" stroke-width="1.25" fill="none"/>
<circle cx="373.7" cy="82.4" r="3.36" fill="#F09A2C"/>
<circle cx="388.97" cy="80" r="3.36" fill="#F09A2C"/>
<circle cx="404.24" cy="82.8" r="3.36" fill="#F09A2C"/>
<circle cx="419.51" cy="77.7" r="3.36" fill="#F09A2C"/>
<circle cx="434.78" cy="77.6" r="3.36" fill="#F09A2C"/>
<circle cx="450.05" cy="74.6" r="3.36" fill="#F09A2C"/>
<circle cx="465.32" cy="78.6" r="3.36" fill="#F09A2C"/>
<circle cx="480.59" cy="67.3" r="3.36" fill="#F09A2C"/>
<circle cx="495.86" cy="68.1" r="3.36" fill="#F09A2C"/>
<circle cx="511.13" cy="65.3" r="3.36" fill="#F09A2C"/>
<circle cx="526.4" cy="69.6" r="3.36" fill="#F09A2C"/>
<path d="M572.8 68.2H591" stroke="#F0C070" stroke-width="1.1"/>
<circle cx="582" cy="68.2" r="3" fill="#F09A2C"/>
<text x="600.6" y="72.5" font-size="12.2" font-weight="normal" text-anchor="start" fill="#161616" stroke="#161616" stroke-width="0.32" textLength="69.7" lengthAdjust="spacingAndGlyphs" >compound 7</text>
<path d="M572.8 92.9H591" stroke="#C8705A" stroke-width="1.1"/>
<path d="M582 87.8L587.1 92.9L582 98L576.9 92.9Z" fill="#E85A28"/>
<text x="600.6" y="97.2" font-size="12.2" font-weight="normal" text-anchor="start" fill="#161616" stroke="#161616" stroke-width="0.32" textLength="41.1" lengthAdjust="spacingAndGlyphs" >G-6599</text>
<path d="M572.8 117.2H591" stroke="#7E3E38" stroke-width="1.1"/>
<circle cx="582" cy="117.2" r="4.05" fill="#9A1A16" stroke="#000" stroke-width="1.5"/>
<text x="600.6" y="121.5" font-size="12.2" font-weight="normal" text-anchor="start" fill="#161616" stroke="#161616" stroke-width="0.32" textLength="30.1" lengthAdjust="spacingAndGlyphs" >A947</text>
<path d="M572.8 141.6H591" stroke="#7F98E0" stroke-width="1.1"/>
<path d="M582 137.41L586.05 145.03L577.95 145.03Z" fill="#7F9DF7" stroke="#000" stroke-width="1.5" stroke-linejoin="miter"/>
<text x="600.6" y="145.9" font-size="12.2" font-weight="normal" text-anchor="start" fill="#161616" stroke="#161616" stroke-width="0.32" textLength="34.2" lengthAdjust="spacingAndGlyphs" >ACBI1</text>
<path d="M572.8 165.9H591" stroke="#9272D4" stroke-width="1.1"/>
<rect x="577.95" y="161.85" width="8.1" height="8.1" fill="#A152EE" stroke="#000" stroke-width="1.5"/>
<text x="600.6" y="170.2" font-size="12.2" font-weight="normal" text-anchor="start" fill="#161616" stroke="#161616" stroke-width="0.32" textLength="57" lengthAdjust="spacingAndGlyphs" >AU-15330</text>
<path d="M657.8 112.9H666.1V171.9H657.8" stroke="#333" stroke-width="1.2" fill="none"/>
<text transform="translate(683.2 143) rotate(-90)" font-size="12.4" font-weight="normal" text-anchor="middle" fill="#161616" stroke="#161616" stroke-width="0.32" textLength="49.6" lengthAdjust="spacingAndGlyphs" >PROTACs</text>
<text x="206.9" y="344.6" font-size="14.2" font-weight="bold" text-anchor="middle" fill="#161616" stroke="#161616" stroke-width="0.4" textLength="46" lengthAdjust="spacingAndGlyphs" >LnCAP</text>
<text x="206.7" y="364.2" font-size="13.2" font-weight="normal" text-anchor="middle" fill="#161616" stroke="#161616" stroke-width="0.32" textLength="89" lengthAdjust="spacingAndGlyphs" >(AR+ prostate)</text>
<path d="M129.4 372.6V526.6" stroke="#444" stroke-width="1.2" fill="none"/>
<path d="M122.9 526H284" stroke="#444" stroke-width="1.2" fill="none"/>
<path d="M122.9 526H129.4" stroke="#444" stroke-width="1.2"/>
<text x="121" y="530" font-size="12.2" font-weight="normal" text-anchor="end" fill="#161616" stroke="#161616" stroke-width="0.32" >0</text>
<path d="M122.9 494H129.4" stroke="#444" stroke-width="1.2"/>
<text x="121" y="498" font-size="12.2" font-weight="normal" text-anchor="end" fill="#161616" stroke="#161616" stroke-width="0.32" >25</text>
<path d="M122.9 462H129.4" stroke="#444" stroke-width="1.2"/>
<text x="121" y="466" font-size="12.2" font-weight="normal" text-anchor="end" fill="#161616" stroke="#161616" stroke-width="0.32" >50</text>
<path d="M122.9 430H129.4" stroke="#444" stroke-width="1.2"/>
<text x="121" y="434" font-size="12.2" font-weight="normal" text-anchor="end" fill="#161616" stroke="#161616" stroke-width="0.32" >75</text>
<path d="M122.9 398H129.4" stroke="#444" stroke-width="1.2"/>
<text x="121" y="402" font-size="12.2" font-weight="normal" text-anchor="end" fill="#161616" stroke="#161616" stroke-width="0.32" >100</text>
<path d="M154.94 526V532.2" stroke="#444" stroke-width="1.2"/>
<text x="154.94" y="546.9" font-size="12.2" font-weight="normal" text-anchor="middle" fill="#161616" stroke="#161616" stroke-width="0.32" >-1</text>
<path d="M186.99 526V532.2" stroke="#444" stroke-width="1.2"/>
<text x="186.99" y="546.9" font-size="12.2" font-weight="normal" text-anchor="middle" fill="#161616" stroke="#161616" stroke-width="0.32" >0</text>
<path d="M219.04 526V532.2" stroke="#444" stroke-width="1.2"/>
<text x="219.04" y="546.9" font-size="12.2" font-weight="normal" text-anchor="middle" fill="#161616" stroke="#161616" stroke-width="0.32" >1</text>
<path d="M251.09 526V532.2" stroke="#444" stroke-width="1.2"/>
<text x="251.09" y="546.9" font-size="12.2" font-weight="normal" text-anchor="middle" fill="#161616" stroke="#161616" stroke-width="0.32" >2</text>
<path d="M283.14 526V532.2" stroke="#444" stroke-width="1.2"/>
<text x="283.14" y="546.9" font-size="12.2" font-weight="normal" text-anchor="middle" fill="#161616" stroke="#161616" stroke-width="0.32" >3</text>
<text transform="translate(92 448.3) rotate(-90)" font-size="14.4" font-weight="bold" text-anchor="middle" fill="#161616" stroke="#161616" stroke-width="0.4" textLength="69.7" lengthAdjust="spacingAndGlyphs" >% viability</text>
<text x="206.8" y="569.1" font-size="13.6" font-weight="bold" text-anchor="middle" fill="#161616" stroke="#161616" stroke-width="0.4" textLength="53" lengthAdjust="spacingAndGlyphs" >[log nM]</text>
<path d="M129.4 404.5 L130.57 404.5 L131.73 404.5 L132.9 404.5 L134.06 404.5 L135.23 404.5 L136.39 404.5 L137.56 404.5 L138.72 404.5 L139.89 404.5 L141.06 404.5 L142.22 404.5 L143.39 404.5 L144.55 404.5 L145.72 404.5 L146.88 404.5 L148.05 404.5 L149.21 404.5 L150.38 404.5 L151.55 404.5 L152.71 404.5 L153.88 404.5 L155.04 404.5 L156.21 404.5 L157.37 404.5 L158.54 404.5 L159.7 404.5 L160.87 404.5 L162.04 404.5 L163.2 404.5 L164.37 404.5 L165.53 404.5 L166.7 404.5 L167.86 404.5 L169.03 404.5 L170.19 404.5 L171.36 404.5 L172.53 404.5 L173.69 404.5 L174.86 404.5 L176.02 404.5 L177.19 404.5 L178.35 404.5 L179.52 404.5 L180.68 404.51 L181.85 404.51 L183.02 404.51 L184.18 404.51 L185.35 404.52 L186.51 404.52 L187.68 404.53 L188.84 404.54 L190.01 404.55 L191.17 404.56 L192.34 404.58 L193.51 404.6 L194.67 404.63 L195.84 404.67 L197 404.72 L198.17 404.79 L199.33 404.87 L200.5 404.98 L201.66 405.13 L202.83 405.31 L203.99 405.55 L205.16 405.85 L206.33 406.25 L207.49 406.75 L208.66 407.4 L209.82 408.23 L210.99 409.29 L212.15 410.62 L213.32 412.31 L214.48 414.41 L215.65 417.02 L216.82 420.2 L217.98 424.04 L219.15 428.58 L220.31 433.84 L221.48 439.8 L222.64 446.35 L223.81 453.35 L224.97 460.59 L226.14 467.84 L227.31 474.85 L228.47 481.43 L229.64 487.41 L230.8 492.71 L231.97 497.28 L233.13 501.14 L234.3 504.36 L235.46 506.98 L236.63 509.11 L237.8 510.81 L238.96 512.16 L240.13 513.23 L241.29 514.07 L242.46 514.72 L243.62 515.23 L244.79 515.63 L245.95 515.94 L247.12 516.18 L248.29 516.37 L249.45 516.51 L250.62 516.62 L251.78 516.71 L252.95 516.77 L254.11 516.83 L255.28 516.87 L256.44 516.9 L257.61 516.92 L258.78 516.94 L259.94 516.95 L261.11 516.96 L262.27 516.97 L263.44 516.98 L264.6 516.98 L265.77 516.99 L266.93 516.99 L268.1 516.99" stroke="#7F98E0" stroke-width="1" fill="none" stroke-dasharray="4 2"/>
<path d="M129.4 390 L130.57 390 L131.73 390 L132.9 390 L134.06 390 L135.23 390 L136.39 390 L137.56 390 L138.72 390 L139.89 390 L141.06 390 L142.22 390 L143.39 390 L144.55 390 L145.72 390 L146.88 390 L148.05 390 L149.21 390 L150.38 390 L151.55 390 L152.71 390 L153.88 390 L155.04 390.01 L156.21 390.01 L157.37 390.01 L158.54 390.01 L159.7 390.01 L160.87 390.01 L162.04 390.02 L163.2 390.02 L164.37 390.02 L165.53 390.03 L166.7 390.03 L167.86 390.04 L169.03 390.05 L170.19 390.06 L171.36 390.07 L172.53 390.08 L173.69 390.09 L174.86 390.11 L176.02 390.14 L177.19 390.16 L178.35 390.19 L179.52 390.23 L180.68 390.28 L181.85 390.33 L183.02 390.4 L184.18 390.48 L185.35 390.57 L186.51 390.68 L187.68 390.81 L188.84 390.97 L190.01 391.16 L191.17 391.38 L192.34 391.65 L193.51 391.97 L194.67 392.35 L195.84 392.81 L197 393.34 L198.17 393.98 L199.33 394.73 L200.5 395.62 L201.66 396.66 L202.83 397.89 L203.99 399.33 L205.16 401 L206.33 402.94 L207.49 405.18 L208.66 407.75 L209.82 410.67 L210.99 413.96 L212.15 417.65 L213.32 421.73 L214.48 426.19 L215.65 431.01 L216.82 436.15 L217.98 441.55 L219.15 447.14 L220.31 452.83 L221.48 458.54 L222.64 464.17 L223.81 469.64 L224.97 474.87 L226.14 479.8 L227.31 484.38 L228.47 488.58 L229.64 492.39 L230.8 495.81 L231.97 498.85 L233.13 501.53 L234.3 503.87 L235.46 505.91 L236.63 507.66 L237.8 509.17 L238.96 510.46 L240.13 511.56 L241.29 512.5 L242.46 513.29 L243.62 513.97 L244.79 514.53 L245.95 515.01 L247.12 515.41 L248.29 515.75 L249.45 516.03 L250.62 516.27 L251.78 516.47 L252.95 516.64 L254.11 516.78 L255.28 516.9 L256.44 517 L257.61 517.08 L258.78 517.15 L259.94 517.21 L261.11 517.25 L262.27 517.29 L263.44 517.33 L264.6 517.36 L265.77 517.38 L266.93 517.4 L268.1 517.42" stroke="#9272D4" stroke-width="1" fill="none"/>
<path d="M129.4 398 L130.57 398.01 L131.73 398.01 L132.9 398.01 L134.06 398.01 L135.23 398.01 L136.39 398.01 L137.56 398.01 L138.72 398.01 L139.89 398.02 L141.06 398.02 L142.22 398.02 L143.39 398.03 L144.55 398.03 L145.72 398.03 L146.88 398.04 L148.05 398.05 L149.21 398.05 L150.38 398.06 L151.55 398.07 L152.71 398.08 L153.88 398.09 L155.04 398.11 L156.21 398.12 L157.37 398.14 L158.54 398.16 L159.7 398.19 L160.87 398.21 L162.04 398.25 L163.2 398.28 L164.37 398.33 L165.53 398.38 L166.7 398.43 L167.86 398.5 L169.03 398.57 L170.19 398.66 L171.36 398.76 L172.53 398.87 L173.69 399 L174.86 399.15 L176.02 399.32 L177.19 399.52 L178.35 399.74 L179.52 400 L180.68 400.3 L181.85 400.63 L183.02 401.02 L184.18 401.46 L185.35 401.97 L186.51 402.54 L187.68 403.2 L188.84 403.94 L190.01 404.79 L191.17 405.75 L192.34 406.83 L193.51 408.05 L194.67 409.42 L195.84 410.96 L197 412.67 L198.17 414.58 L199.33 416.69 L200.5 419.02 L201.66 421.57 L202.83 424.35 L203.99 427.35 L205.16 430.58 L206.33 434.02 L207.49 437.67 L208.66 441.49 L209.82 445.46 L210.99 449.56 L212.15 453.74 L213.32 457.96 L214.48 462.18 L215.65 466.37 L216.82 470.48 L217.98 474.47 L219.15 478.31 L220.31 481.98 L221.48 485.46 L222.64 488.71 L223.81 491.75 L224.97 494.56 L226.14 497.14 L227.31 499.5 L228.47 501.64 L229.64 503.57 L230.8 505.32 L231.97 506.88 L233.13 508.27 L234.3 509.51 L235.46 510.61 L236.63 511.58 L237.8 512.45 L238.96 513.2 L240.13 513.87 L241.29 514.46 L242.46 514.97 L243.62 515.42 L244.79 515.82 L245.95 516.16 L247.12 516.46 L248.29 516.73 L249.45 516.95 L250.62 517.15 L251.78 517.33 L252.95 517.48 L254.11 517.61 L255.28 517.73 L256.44 517.83 L257.61 517.92 L258.78 517.99 L259.94 518.06 L261.11 518.12 L262.27 518.17 L263.44 518.21 L264.6 518.25 L265.77 518.28 L266.93 518.31 L268.1 518.33" stroke="#000" stroke-width="1.1" fill="none"/>
<path d="M129.4 398 L130.57 398 L131.73 398 L132.9 398 L134.06 398 L135.23 398 L136.39 398 L137.56 398 L138.72 398 L139.89 398 L141.06 398 L142.22 398 L143.39 398 L144.55 398 L145.72 398 L146.88 398 L148.05 398 L149.21 398 L150.38 398 L151.55 398 L152.71 398 L153.88 398 L155.04 398 L156.21 398 L157.37 398 L158.54 398 L159.7 398 L160.87 398 L162.04 398 L163.2 398.01 L164.37 398.01 L165.53 398.01 L166.7 398.02 L167.86 398.02 L169.03 398.03 L170.19 398.04 L171.36 398.05 L172.53 398.07 L173.69 398.09 L174.86 398.12 L176.02 398.16 L177.19 398.22 L178.35 398.29 L179.52 398.39 L180.68 398.52 L181.85 398.69 L183.02 398.92 L184.18 399.23 L185.35 399.64 L186.51 400.18 L187.68 400.9 L188.84 401.85 L190.01 403.1 L191.17 404.73 L192.34 406.84 L193.51 409.55 L194.67 412.97 L195.84 417.23 L197 422.43 L198.17 428.6 L199.33 435.73 L200.5 443.67 L201.66 452.2 L202.83 460.99 L203.99 469.68 L205.16 477.91 L206.33 485.41 L207.49 492.01 L208.66 497.63 L209.82 502.28 L210.99 506.06 L212.15 509.06 L213.32 511.41 L214.48 513.24 L215.65 514.64 L216.82 515.72 L217.98 516.53 L219.15 517.14 L220.31 517.61 L221.48 517.96 L222.64 518.22 L223.81 518.42 L224.97 518.56 L226.14 518.67 L227.31 518.76 L228.47 518.82 L229.64 518.86 L230.8 518.9 L231.97 518.92 L233.13 518.94 L234.3 518.96 L235.46 518.97 L236.63 518.98 L237.8 518.98 L238.96 518.99 L240.13 518.99 L241.29 518.99 L242.46 518.99 L243.62 519 L244.79 519 L245.95 519 L247.12 519 L248.29 519 L249.45 519 L250.62 519 L251.78 519 L252.95 519 L254.11 519 L255.28 519 L256.44 519 L257.61 519 L258.78 519 L259.94 519 L261.11 519 L262.27 519 L263.44 519 L264.6 519 L265.77 519 L266.93 519 L268.1 519" stroke="#7E3E38" stroke-width="1" fill="none"/>
<path d="M129.4 390.4 L130.57 390.4 L131.73 390.4 L132.9 390.4 L134.06 390.4 L135.23 390.4 L136.39 390.4 L137.56 390.4 L138.72 390.4 L139.89 390.4 L141.06 390.4 L142.22 390.4 L143.39 390.4 L144.55 390.4 L145.72 390.4 L146.88 390.4 L148.05 390.4 L149.21 390.4 L150.38 390.4 L151.55 390.4 L152.71 390.4 L153.88 390.4 L155.04 390.4 L156.21 390.4 L157.37 390.4 L158.54 390.4 L159.7 390.4 L160.87 390.4 L162.04 390.4 L163.2 390.4 L164.37 390.4 L165.53 390.4 L166.7 390.4 L167.86 390.4 L169.03 390.4 L170.19 390.4 L171.36 390.4 L172.53 390.4 L173.69 390.4 L174.86 390.4 L176.02 390.4 L177.19 390.4 L178.35 390.4 L179.52 390.4 L180.68 390.4 L181.85 390.4 L183.02 390.4 L184.18 390.4 L185.35 390.4 L186.51 390.4 L187.68 390.4 L188.84 390.4 L190.01 390.4 L191.17 390.4 L192.34 390.4 L193.51 390.4 L194.67 390.4 L195.84 390.4 L197 390.41 L198.17 390.41 L199.33 390.42 L200.5 390.43 L201.66 390.45 L202.83 390.47 L203.99 390.52 L205.16 390.59 L206.33 390.7 L207.49 390.88 L208.66 391.16 L209.82 391.6 L210.99 392.31 L212.15 393.41 L213.32 395.13 L214.48 397.79 L215.65 401.79 L216.82 407.65 L217.98 415.89 L219.15 426.77 L220.31 440.09 L221.48 454.92 L222.64 469.77 L223.81 483.17 L224.97 494.16 L226.14 502.48 L227.31 508.43 L228.47 512.49 L229.64 515.18 L230.8 516.94 L231.97 518.06 L233.13 518.78 L234.3 519.23 L235.46 519.52 L236.63 519.7 L237.8 519.81 L238.96 519.88 L240.13 519.92 L241.29 519.95 L242.46 519.97 L243.62 519.98 L244.79 519.99 L245.95 519.99 L247.12 520 L248.29 520 L249.45 520 L250.62 520 L251.78 520 L252.95 520 L254.11 520 L255.28 520 L256.44 520 L257.61 520 L258.78 520 L259.94 520 L261.11 520 L262.27 520 L263.44 520 L264.6 520 L265.77 520 L266.93 520 L268.1 520" stroke="#C8705A" stroke-width="1" fill="none"/>
<path d="M129.4 400.67 L130.57 400.69 L131.73 400.71 L132.9 400.74 L134.06 400.78 L135.23 400.81 L136.39 400.86 L137.56 400.9 L138.72 400.96 L139.89 401.02 L141.06 401.09 L142.22 401.17 L143.39 401.26 L144.55 401.36 L145.72 401.47 L146.88 401.6 L148.05 401.74 L149.21 401.9 L150.38 402.08 L151.55 402.27 L152.71 402.49 L153.88 402.74 L155.04 403.01 L156.21 403.3 L157.37 403.63 L158.54 403.98 L159.7 404.36 L160.87 404.78 L162.04 405.22 L163.2 405.69 L164.37 406.2 L165.53 406.73 L166.7 407.28 L167.86 407.85 L169.03 408.45 L170.19 409.05 L171.36 409.66 L172.53 410.28 L173.69 410.89 L174.86 411.49 L176.02 412.09 L177.19 412.66 L178.35 413.22 L179.52 413.75 L180.68 414.26 L181.85 414.73 L183.02 415.18 L184.18 415.6 L185.35 415.99 L186.51 416.34 L187.68 416.67 L188.84 416.97 L190.01 417.24 L191.17 417.48 L192.34 417.7 L193.51 417.9 L194.67 418.08 L195.84 418.24 L197 418.39 L198.17 418.52 L199.33 418.63 L200.5 418.73 L201.66 418.82 L202.83 418.9 L203.99 418.97 L205.16 419.03 L206.33 419.09 L207.49 419.14 L208.66 419.18 L209.82 419.22 L210.99 419.25 L212.15 419.28 L213.32 419.31 L214.48 419.33 L215.65 419.35 L216.82 419.37 L217.98 419.39 L219.15 419.4 L220.31 419.41 L221.48 419.42 L222.64 419.43 L223.81 419.44 L224.97 419.45 L226.14 419.45 L227.31 419.46 L228.47 419.46 L229.64 419.47 L230.8 419.47 L231.97 419.48 L233.13 419.48 L234.3 419.48 L235.46 419.48 L236.63 419.49 L237.8 419.49 L238.96 419.49 L240.13 419.49 L241.29 419.49 L242.46 419.49 L243.62 419.49 L244.79 419.49 L245.95 419.49 L247.12 419.5 L248.29 419.5 L249.45 419.5 L250.62 419.5 L251.78 419.5 L252.95 419.5 L254.11 419.5 L255.28 419.5 L256.44 419.5 L257.61 419.5 L258.78 419.5 L259.94 419.5 L261.11 419.5 L262.27 419.5 L263.44 419.5 L264.6 419.5 L265.77 419.5 L266.93 419.5 L268.1 419.5" stroke="#F0C070" stroke-width="1" fill="none"/>
<path d="M129.4 386.5V412.5M124.9 386.5H133.9M124.9 412.5H133.9" stroke="#111" stroke-width="1.25" fill="none"/>
<path d="M160.22 402.5V420.5M155.72 402.5H164.72M155.72 420.5H164.72" stroke="#111" stroke-width="1.25" fill="none"/>
<path d="M206.45 404.5V420.5M201.95 404.5H210.95M201.95 420.5H210.95" stroke="#111" stroke-width="1.25" fill="none"/>
<path d="M221.86 436.5V448.5M217.36 436.5H226.36M217.36 448.5H226.36" stroke="#111" stroke-width="1.25" fill="none"/>
<path d="M129.4 394.29L132.99 401.04L125.81 401.04Z" fill="#7F9DF7" stroke="#000" stroke-width="1.4" stroke-linejoin="miter"/>
<path d="M144.81 400.19L148.4 406.94L141.22 406.94Z" fill="#7F9DF7" stroke="#000" stroke-width="1.4" stroke-linejoin="miter"/>
<path d="M160.22 406.79L163.81 413.54L156.63 413.54Z" fill="#7F9DF7" stroke="#000" stroke-width="1.4" stroke-linejoin="miter"/>
<path d="M175.63 396.69L179.22 403.44L172.04 403.44Z" fill="#7F9DF7" stroke="#000" stroke-width="1.4" stroke-linejoin="miter"/>
<path d="M191.04 399.29L194.63 406.04L187.45 406.04Z" fill="#7F9DF7" stroke="#000" stroke-width="1.4" stroke-linejoin="miter"/>
<path d="M206.45 409.29L210.04 416.04L202.86 416.04Z" fill="#7F9DF7" stroke="#000" stroke-width="1.4" stroke-linejoin="miter"/>
<path d="M221.86 438.29L225.45 445.04L218.27 445.04Z" fill="#7F9DF7" stroke="#000" stroke-width="1.4" stroke-linejoin="miter"/>
<path d="M237.27 508.29L240.86 515.04L233.68 515.04Z" fill="#7F9DF7" stroke="#000" stroke-width="1.4" stroke-linejoin="miter"/>
<path d="M252.68 512.29L256.27 519.04L249.09 519.04Z" fill="#7F9DF7" stroke="#000" stroke-width="1.4" stroke-linejoin="miter"/>
<path d="M268.09 514.29L271.68 521.04L264.5 521.04Z" fill="#7F9DF7" stroke="#000" stroke-width="1.4" stroke-linejoin="miter"/>
<path d="M144.81 372.5V392.5M140.31 372.5H149.31M140.31 392.5H149.31" stroke="#111" stroke-width="1.25" fill="none"/>
<path d="M191.04 377.5V400.5M186.54 377.5H195.54M186.54 400.5H195.54" stroke="#111" stroke-width="1.25" fill="none"/>
<path d="M206.45 392.5V406.5M201.95 392.5H210.95M201.95 406.5H210.95" stroke="#111" stroke-width="1.25" fill="none"/>
<path d="M221.86 456.5V468.5M217.36 456.5H226.36M217.36 468.5H226.36" stroke="#111" stroke-width="1.25" fill="none"/>
<rect x="125.62" y="392.21" width="7.57" height="7.57" fill="#A152EE" stroke="#000" stroke-width="1.4"/>
<rect x="141.03" y="377.31" width="7.57" height="7.57" fill="#A152EE" stroke="#000" stroke-width="1.4"/>
<rect x="156.44" y="396.21" width="7.57" height="7.57" fill="#A152EE" stroke="#000" stroke-width="1.4"/>
<rect x="171.84" y="380.21" width="7.57" height="7.57" fill="#A152EE" stroke="#000" stroke-width="1.4"/>
<rect x="187.26" y="384.91" width="7.57" height="7.57" fill="#A152EE" stroke="#000" stroke-width="1.4"/>
<rect x="202.66" y="395.11" width="7.57" height="7.57" fill="#A152EE" stroke="#000" stroke-width="1.4"/>
<rect x="218.08" y="458.11" width="7.57" height="7.57" fill="#A152EE" stroke="#000" stroke-width="1.4"/>
<rect x="233.49" y="503.41" width="7.57" height="7.57" fill="#A152EE" stroke="#000" stroke-width="1.4"/>
<rect x="248.9" y="513.62" width="7.57" height="7.57" fill="#A152EE" stroke="#000" stroke-width="1.4"/>
<rect x="264.31" y="513.62" width="7.57" height="7.57" fill="#A152EE" stroke="#000" stroke-width="1.4"/>
<path d="M129.4 388.5V408.5M124.9 388.5H133.9M124.9 408.5H133.9" stroke="#111" stroke-width="1.25" fill="none"/>
<path d="M191.04 396.5V418.5M186.54 396.5H195.54M186.54 418.5H195.54" stroke="#111" stroke-width="1.25" fill="none"/>
<path d="M206.45 428.5V440.5M201.95 428.5H210.95M201.95 440.5H210.95" stroke="#111" stroke-width="1.25" fill="none"/>
<circle cx="129.4" cy="398" r="3" fill="#000" stroke="#000" stroke-width="1.4"/>
<circle cx="144.81" cy="398" r="3" fill="#000" stroke="#000" stroke-width="1.4"/>
<circle cx="160.22" cy="400" r="3" fill="#000" stroke="#000" stroke-width="1.4"/>
<circle cx="175.63" cy="404.5" r="3" fill="#000" stroke="#000" stroke-width="1.4"/>
<circle cx="191.04" cy="401.5" r="3" fill="#000" stroke="#000" stroke-width="1.4"/>
<circle cx="206.45" cy="434.4" r="3" fill="#000" stroke="#000" stroke-width="1.4"/>
<circle cx="221.86" cy="486.7" r="3" fill="#000" stroke="#000" stroke-width="1.4"/>
<circle cx="237.27" cy="519.6" r="3" fill="#000" stroke="#000" stroke-width="1.4"/>
<circle cx="252.68" cy="515.9" r="3" fill="#000" stroke="#000" stroke-width="1.4"/>
<circle cx="268.09" cy="518" r="3" fill="#000" stroke="#000" stroke-width="1.4"/>
<path d="M129.4 384.5V414.5M124.9 384.5H133.9M124.9 414.5H133.9" stroke="#111" stroke-width="1.25" fill="none"/>
<path d="M160.22 382.5V400.5M155.72 382.5H164.72M155.72 400.5H164.72" stroke="#111" stroke-width="1.25" fill="none"/>
<path d="M206.45 482.5V492.5M201.95 482.5H210.95M201.95 492.5H210.95" stroke="#111" stroke-width="1.25" fill="none"/>
<circle cx="129.4" cy="398" r="3" fill="#9A1A16" stroke="#000" stroke-width="1.4"/>
<circle cx="144.81" cy="398" r="3" fill="#9A1A16" stroke="#000" stroke-width="1.4"/>
<circle cx="160.22" cy="391.6" r="3" fill="#9A1A16" stroke="#000" stroke-width="1.4"/>
<circle cx="175.63" cy="404.6" r="3" fill="#9A1A16" stroke="#000" stroke-width="1.4"/>
<circle cx="191.04" cy="400" r="3" fill="#9A1A16" stroke="#000" stroke-width="1.4"/>
<circle cx="206.45" cy="487" r="3" fill="#9A1A16" stroke="#000" stroke-width="1.4"/>
<circle cx="221.86" cy="513.7" r="3" fill="#9A1A16" stroke="#000" stroke-width="1.4"/>
<circle cx="237.27" cy="519.6" r="3" fill="#9A1A16" stroke="#000" stroke-width="1.4"/>
<circle cx="252.68" cy="518" r="3" fill="#9A1A16" stroke="#000" stroke-width="1.4"/>
<circle cx="268.09" cy="519" r="3" fill="#9A1A16" stroke="#000" stroke-width="1.4"/>
<path d="M206.45 372.5V394.5M201.95 372.5H210.95M201.95 394.5H210.95" stroke="#111" stroke-width="1.25" fill="none"/>
<path d="M175.63 376.11L180.03 380.5L175.63 384.89L171.23 380.5Z" fill="#E85A28"/>
<path d="M191.04 403L195.44 407.4L191.04 411.79L186.65 407.4Z" fill="#E85A28"/>
<path d="M206.45 385.31L210.84 389.7L206.45 394.09L202.05 389.7Z" fill="#E85A28"/>
<path d="M221.86 469.91L226.26 474.3L221.86 478.69L217.47 474.3Z" fill="#E85A28"/>
<path d="M237.27 510.11L241.67 514.5L237.27 518.89L232.88 514.5Z" fill="#E85A28"/>
<path d="M252.68 515.9L257.07 520.3L252.68 524.69L248.28 520.3Z" fill="#E85A28"/>
<path d="M268.09 515.61L272.49 520L268.09 524.39L263.7 520Z" fill="#E85A28"/>
<path d="M144.81 408.5V423.5M141.3 408.5H148.32M141.3 423.5H148.32" stroke="#111" stroke-width="1.25" fill="none"/>
<path d="M175.63 410.5V432.5M172.12 410.5H179.14M172.12 432.5H179.14" stroke="#111" stroke-width="1.25" fill="none"/>
<path d="M191.04 377.5V429.5M187.53 377.5H194.55M187.53 429.5H194.55" stroke="#111" stroke-width="1.25" fill="none"/>
<path d="M221.86 398.5V428.5M218.35 398.5H225.37M218.35 428.5H225.37" stroke="#111" stroke-width="1.25" fill="none"/>
<path d="M237.27 411.5V429.5M233.76 411.5H240.78M233.76 429.5H240.78" stroke="#111" stroke-width="1.25" fill="none"/>
<path d="M252.68 392.5V427.5M249.17 392.5H256.19M249.17 427.5H256.19" stroke="#111" stroke-width="1.25" fill="none"/>
<path d="M268.09 421.5V434.5M264.58 421.5H271.6M264.58 434.5H271.6" stroke="#111" stroke-width="1.25" fill="none"/>
<circle cx="129.4" cy="398" r="2.81" fill="#F09A2C"/>
<circle cx="144.81" cy="414.4" r="2.81" fill="#F09A2C"/>
<circle cx="160.22" cy="399.2" r="2.81" fill="#F09A2C"/>
<circle cx="175.63" cy="420.8" r="2.81" fill="#F09A2C"/>
<circle cx="191.04" cy="411.6" r="2.81" fill="#F09A2C"/>
<circle cx="206.45" cy="427.8" r="2.81" fill="#F09A2C"/>
<circle cx="221.86" cy="413.4" r="2.81" fill="#F09A2C"/>
<circle cx="237.27" cy="420.6" r="2.81" fill="#F09A2C"/>
<circle cx="252.68" cy="410" r="2.81" fill="#F09A2C"/>
<circle cx="268.09" cy="427.8" r="2.81" fill="#F09A2C"/>
<text x="476.4" y="344.6" font-size="14.2" font-weight="bold" text-anchor="middle" fill="#161616" stroke="#161616" stroke-width="0.4" textLength="73" lengthAdjust="spacingAndGlyphs" >NCI-H1944</text>
<text x="475.2" y="364.2" font-size="13.2" font-weight="normal" text-anchor="middle" fill="#161616" stroke="#161616" stroke-width="0.32" textLength="168.5" lengthAdjust="spacingAndGlyphs" >(SMARCA4-mutant NSCLC)</text>
<path d="M399.3 372.6V526.8" stroke="#444" stroke-width="1.2" fill="none"/>
<path d="M392.8 526.2H553.6" stroke="#444" stroke-width="1.2" fill="none"/>
<path d="M392.8 526.2H399.3" stroke="#444" stroke-width="1.2"/>
<text x="390.9" y="530.2" font-size="12.2" font-weight="normal" text-anchor="end" fill="#161616" stroke="#161616" stroke-width="0.32" >0</text>
<path d="M392.8 494.2H399.3" stroke="#444" stroke-width="1.2"/>
<text x="390.9" y="498.2" font-size="12.2" font-weight="normal" text-anchor="end" fill="#161616" stroke="#161616" stroke-width="0.32" >25</text>
<path d="M392.8 462.2H399.3" stroke="#444" stroke-width="1.2"/>
<text x="390.9" y="466.2" font-size="12.2" font-weight="normal" text-anchor="end" fill="#161616" stroke="#161616" stroke-width="0.32" >50</text>
<path d="M392.8 430.2H399.3" stroke="#444" stroke-width="1.2"/>
<text x="390.9" y="434.2" font-size="12.2" font-weight="normal" text-anchor="end" fill="#161616" stroke="#161616" stroke-width="0.32" >75</text>
<path d="M392.8 398.2H399.3" stroke="#444" stroke-width="1.2"/>
<text x="390.9" y="402.2" font-size="12.2" font-weight="normal" text-anchor="end" fill="#161616" stroke="#161616" stroke-width="0.32" >100</text>
<path d="M424.84 526.2V532.4" stroke="#444" stroke-width="1.2"/>
<text x="424.84" y="547.1" font-size="12.2" font-weight="normal" text-anchor="middle" fill="#161616" stroke="#161616" stroke-width="0.32" >-1</text>
<path d="M456.89 526.2V532.4" stroke="#444" stroke-width="1.2"/>
<text x="456.89" y="547.1" font-size="12.2" font-weight="normal" text-anchor="middle" fill="#161616" stroke="#161616" stroke-width="0.32" >0</text>
<path d="M488.94 526.2V532.4" stroke="#444" stroke-width="1.2"/>
<text x="488.94" y="547.1" font-size="12.2" font-weight="normal" text-anchor="middle" fill="#161616" stroke="#161616" stroke-width="0.32" >1</text>
<path d="M520.99 526.2V532.4" stroke="#444" stroke-width="1.2"/>
<text x="520.99" y="547.1" font-size="12.2" font-weight="normal" text-anchor="middle" fill="#161616" stroke="#161616" stroke-width="0.32" >2</text>
<path d="M553.04 526.2V532.4" stroke="#444" stroke-width="1.2"/>
<text x="553.04" y="547.1" font-size="12.2" font-weight="normal" text-anchor="middle" fill="#161616" stroke="#161616" stroke-width="0.32" >3</text>
<text transform="translate(360.8 448.4) rotate(-90)" font-size="14.4" font-weight="bold" text-anchor="middle" fill="#161616" stroke="#161616" stroke-width="0.4" textLength="69.7" lengthAdjust="spacingAndGlyphs" >% viability</text>
<text x="475.6" y="569.3" font-size="13.6" font-weight="bold" text-anchor="middle" fill="#161616" stroke="#161616" stroke-width="0.4" textLength="53" lengthAdjust="spacingAndGlyphs" >[log nM]</text>
<path d="M399.2 394.33 L400.37 394.33 L401.53 394.33 L402.7 394.33 L403.86 394.33 L405.03 394.33 L406.19 394.33 L407.36 394.33 L408.52 394.33 L409.69 394.33 L410.86 394.34 L412.02 394.34 L413.19 394.34 L414.35 394.34 L415.52 394.34 L416.68 394.34 L417.85 394.34 L419.01 394.34 L420.18 394.34 L421.35 394.34 L422.51 394.35 L423.68 394.35 L424.84 394.35 L426.01 394.35 L427.17 394.35 L428.34 394.36 L429.5 394.36 L430.67 394.37 L431.84 394.37 L433 394.37 L434.17 394.38 L435.33 394.39 L436.5 394.39 L437.66 394.4 L438.83 394.41 L439.99 394.42 L441.16 394.43 L442.33 394.44 L443.49 394.45 L444.66 394.47 L445.82 394.48 L446.99 394.5 L448.15 394.52 L449.32 394.54 L450.48 394.57 L451.65 394.6 L452.82 394.63 L453.98 394.67 L455.15 394.71 L456.31 394.75 L457.48 394.8 L458.64 394.86 L459.81 394.92 L460.97 394.99 L462.14 395.07 L463.31 395.16 L464.47 395.26 L465.64 395.37 L466.8 395.49 L467.97 395.63 L469.13 395.78 L470.3 395.95 L471.46 396.14 L472.63 396.35 L473.79 396.59 L474.96 396.85 L476.13 397.14 L477.29 397.47 L478.46 397.83 L479.62 398.23 L480.79 398.67 L481.95 399.16 L483.12 399.71 L484.28 400.31 L485.45 400.97 L486.62 401.7 L487.78 402.49 L488.95 403.37 L490.11 404.33 L491.28 405.37 L492.44 406.5 L493.61 407.73 L494.77 409.06 L495.94 410.49 L497.11 412.03 L498.27 413.67 L499.44 415.41 L500.6 417.26 L501.77 419.2 L502.93 421.24 L504.1 423.36 L505.26 425.57 L506.43 427.84 L507.6 430.16 L508.76 432.53 L509.93 434.92 L511.09 437.33 L512.26 439.73 L513.42 442.11 L514.59 444.46 L515.75 446.76 L516.92 449.01 L518.09 451.18 L519.25 453.27 L520.42 455.27 L521.58 457.17 L522.75 458.98 L523.91 460.68 L525.08 462.27 L526.24 463.77 L527.41 465.15 L528.58 466.44 L529.74 467.63 L530.91 468.73 L532.07 469.73 L533.24 470.65 L534.4 471.5 L535.57 472.27 L536.73 472.96 L537.9 473.6" stroke="#7F98E0" stroke-width="1" fill="none"/>
<path d="M399.2 392.4 L400.37 392.4 L401.53 392.4 L402.7 392.4 L403.86 392.4 L405.03 392.4 L406.19 392.4 L407.36 392.4 L408.52 392.4 L409.69 392.4 L410.86 392.4 L412.02 392.4 L413.19 392.41 L414.35 392.41 L415.52 392.41 L416.68 392.41 L417.85 392.41 L419.01 392.41 L420.18 392.41 L421.35 392.41 L422.51 392.41 L423.68 392.42 L424.84 392.42 L426.01 392.42 L427.17 392.42 L428.34 392.42 L429.5 392.43 L430.67 392.43 L431.84 392.43 L433 392.44 L434.17 392.44 L435.33 392.45 L436.5 392.45 L437.66 392.46 L438.83 392.46 L439.99 392.47 L441.16 392.48 L442.33 392.49 L443.49 392.5 L444.66 392.51 L445.82 392.53 L446.99 392.54 L448.15 392.56 L449.32 392.58 L450.48 392.6 L451.65 392.62 L452.82 392.65 L453.98 392.68 L455.15 392.71 L456.31 392.75 L457.48 392.79 L458.64 392.83 L459.81 392.88 L460.97 392.94 L462.14 393 L463.31 393.07 L464.47 393.15 L465.64 393.24 L466.8 393.34 L467.97 393.45 L469.13 393.57 L470.3 393.7 L471.46 393.86 L472.63 394.02 L473.79 394.21 L474.96 394.42 L476.13 394.65 L477.29 394.91 L478.46 395.2 L479.62 395.51 L480.79 395.87 L481.95 396.26 L483.12 396.69 L484.28 397.17 L485.45 397.69 L486.62 398.27 L487.78 398.91 L488.95 399.61 L490.11 400.38 L491.28 401.22 L492.44 402.14 L493.61 403.14 L494.77 404.23 L495.94 405.4 L497.11 406.67 L498.27 408.03 L499.44 409.49 L500.6 411.05 L501.77 412.71 L502.93 414.46 L504.1 416.31 L505.26 418.24 L506.43 420.26 L507.6 422.35 L508.76 424.5 L509.93 426.7 L511.09 428.95 L512.26 431.22 L513.42 433.5 L514.59 435.79 L515.75 438.06 L516.92 440.3 L518.09 442.5 L519.25 444.65 L520.42 446.73 L521.58 448.73 L522.75 450.66 L523.91 452.49 L525.08 454.24 L526.24 455.88 L527.41 457.43 L528.58 458.88 L529.74 460.23 L530.91 461.49 L532.07 462.66 L533.24 463.73 L534.4 464.72 L535.57 465.63 L536.73 466.47 L537.9 467.23" stroke="#9272D4" stroke-width="1" fill="none"/>
<path d="M399.2 395.87 L400.37 395.9 L401.53 395.93 L402.7 395.97 L403.86 396 L405.03 396.04 L406.19 396.09 L407.36 396.14 L408.52 396.19 L409.69 396.25 L410.86 396.31 L412.02 396.37 L413.19 396.45 L414.35 396.52 L415.52 396.61 L416.68 396.7 L417.85 396.8 L419.01 396.91 L420.18 397.02 L421.35 397.15 L422.51 397.29 L423.68 397.44 L424.84 397.6 L426.01 397.77 L427.17 397.96 L428.34 398.16 L429.5 398.38 L430.67 398.62 L431.84 398.88 L433 399.16 L434.17 399.46 L435.33 399.78 L436.5 400.13 L437.66 400.5 L438.83 400.9 L439.99 401.33 L441.16 401.8 L442.33 402.3 L443.49 402.83 L444.66 403.41 L445.82 404.02 L446.99 404.67 L448.15 405.37 L449.32 406.11 L450.48 406.91 L451.65 407.75 L452.82 408.64 L453.98 409.58 L455.15 410.58 L456.31 411.64 L457.48 412.74 L458.64 413.91 L459.81 415.13 L460.97 416.4 L462.14 417.73 L463.31 419.11 L464.47 420.55 L465.64 422.03 L466.8 423.56 L467.97 425.13 L469.13 426.74 L470.3 428.39 L471.46 430.06 L472.63 431.76 L473.79 433.48 L474.96 435.22 L476.13 436.96 L477.29 438.71 L478.46 440.45 L479.62 442.18 L480.79 443.89 L481.95 445.59 L483.12 447.26 L484.28 448.9 L485.45 450.5 L486.62 452.06 L487.78 453.57 L488.95 455.04 L490.11 456.47 L491.28 457.83 L492.44 459.15 L493.61 460.41 L494.77 461.62 L495.94 462.76 L497.11 463.86 L498.27 464.9 L499.44 465.88 L500.6 466.81 L501.77 467.69 L502.93 468.52 L504.1 469.3 L505.26 470.03 L506.43 470.72 L507.6 471.36 L508.76 471.96 L509.93 472.53 L511.09 473.05 L512.26 473.54 L513.42 474 L514.59 474.42 L515.75 474.82 L516.92 475.19 L518.09 475.53 L519.25 475.84 L520.42 476.14 L521.58 476.41 L522.75 476.66 L523.91 476.89 L525.08 477.11 L526.24 477.31 L527.41 477.49 L528.58 477.66 L529.74 477.82 L530.91 477.97 L532.07 478.1 L533.24 478.23 L534.4 478.34 L535.57 478.45 L536.73 478.54 L537.9 478.63" stroke="#C8705A" stroke-width="1" fill="none"/>
<path d="M399.2 396.27 L400.37 396.29 L401.53 396.3 L402.7 396.32 L403.86 396.34 L405.03 396.37 L406.19 396.39 L407.36 396.42 L408.52 396.45 L409.69 396.48 L410.86 396.52 L412.02 396.56 L413.19 396.61 L414.35 396.66 L415.52 396.72 L416.68 396.78 L417.85 396.85 L419.01 396.92 L420.18 397 L421.35 397.09 L422.51 397.19 L423.68 397.3 L424.84 397.43 L426.01 397.56 L427.17 397.71 L428.34 397.87 L429.5 398.05 L430.67 398.24 L431.84 398.46 L433 398.69 L434.17 398.95 L435.33 399.23 L436.5 399.54 L437.66 399.88 L438.83 400.26 L439.99 400.66 L441.16 401.11 L442.33 401.59 L443.49 402.12 L444.66 402.7 L445.82 403.32 L446.99 404 L448.15 404.74 L449.32 405.53 L450.48 406.39 L451.65 407.32 L452.82 408.31 L453.98 409.38 L455.15 410.52 L456.31 411.74 L457.48 413.04 L458.64 414.41 L459.81 415.87 L460.97 417.4 L462.14 419.01 L463.31 420.69 L464.47 422.44 L465.64 424.25 L466.8 426.13 L467.97 428.06 L469.13 430.03 L470.3 432.04 L471.46 434.08 L472.63 436.13 L473.79 438.2 L474.96 440.26 L476.13 442.31 L477.29 444.34 L478.46 446.34 L479.62 448.3 L480.79 450.21 L481.95 452.06 L483.12 453.86 L484.28 455.58 L485.45 457.24 L486.62 458.82 L487.78 460.32 L488.95 461.75 L490.11 463.1 L491.28 464.37 L492.44 465.56 L493.61 466.67 L494.77 467.71 L495.94 468.68 L497.11 469.59 L498.27 470.42 L499.44 471.2 L500.6 471.91 L501.77 472.57 L502.93 473.18 L504.1 473.74 L505.26 474.25 L506.43 474.72 L507.6 475.15 L508.76 475.55 L509.93 475.91 L511.09 476.24 L512.26 476.54 L513.42 476.81 L514.59 477.06 L515.75 477.29 L516.92 477.5 L518.09 477.69 L519.25 477.86 L520.42 478.02 L521.58 478.16 L522.75 478.29 L523.91 478.41 L525.08 478.51 L526.24 478.61 L527.41 478.7 L528.58 478.78 L529.74 478.85 L530.91 478.91 L532.07 478.97 L533.24 479.03 L534.4 479.08 L535.57 479.12 L536.73 479.16 L537.9 479.2" stroke="#7E3E38" stroke-width="1" fill="none"/>
<path d="M399.2 396.73 L400.37 396.77 L401.53 396.82 L402.7 396.87 L403.86 396.92 L405.03 396.98 L406.19 397.04 L407.36 397.1 L408.52 397.17 L409.69 397.24 L410.86 397.32 L412.02 397.4 L413.19 397.48 L414.35 397.57 L415.52 397.67 L416.68 397.77 L417.85 397.88 L419.01 397.99 L420.18 398.11 L421.35 398.24 L422.51 398.37 L423.68 398.52 L424.84 398.67 L426.01 398.83 L427.17 398.99 L428.34 399.17 L429.5 399.36 L430.67 399.56 L431.84 399.77 L433 399.99 L434.17 400.23 L435.33 400.48 L436.5 400.74 L437.66 401.02 L438.83 401.31 L439.99 401.61 L441.16 401.94 L442.33 402.28 L443.49 402.64 L444.66 403.02 L445.82 403.42 L446.99 403.84 L448.15 404.28 L449.32 404.74 L450.48 405.23 L451.65 405.74 L452.82 406.28 L453.98 406.84 L455.15 407.43 L456.31 408.04 L457.48 408.69 L458.64 409.36 L459.81 410.07 L460.97 410.8 L462.14 411.57 L463.31 412.37 L464.47 413.2 L465.64 414.06 L466.8 414.96 L467.97 415.89 L469.13 416.85 L470.3 417.85 L471.46 418.88 L472.63 419.95 L473.79 421.04 L474.96 422.18 L476.13 423.34 L477.29 424.54 L478.46 425.76 L479.62 427.02 L480.79 428.3 L481.95 429.61 L483.12 430.95 L484.28 432.31 L485.45 433.69 L486.62 435.09 L487.78 436.51 L488.95 437.95 L490.11 439.4 L491.28 440.86 L492.44 442.32 L493.61 443.8 L494.77 445.28 L495.94 446.75 L497.11 448.23 L498.27 449.7 L499.44 451.17 L500.6 452.62 L501.77 454.06 L502.93 455.49 L504.1 456.9 L505.26 458.29 L506.43 459.67 L507.6 461.01 L508.76 462.34 L509.93 463.64 L511.09 464.91 L512.26 466.15 L513.42 467.36 L514.59 468.54 L515.75 469.69 L516.92 470.8 L518.09 471.88 L519.25 472.93 L520.42 473.95 L521.58 474.93 L522.75 475.88 L523.91 476.79 L525.08 477.67 L526.24 478.52 L527.41 479.33 L528.58 480.11 L529.74 480.86 L530.91 481.58 L532.07 482.27 L533.24 482.93 L534.4 483.56 L535.57 484.17 L536.73 484.74 L537.9 485.29" stroke="#000" stroke-width="1.1" fill="none"/>
<path d="M399.2 394.15 L400.37 394.15 L401.53 394.16 L402.7 394.16 L403.86 394.16 L405.03 394.17 L406.19 394.17 L407.36 394.18 L408.52 394.18 L409.69 394.19 L410.86 394.2 L412.02 394.2 L413.19 394.21 L414.35 394.21 L415.52 394.22 L416.68 394.23 L417.85 394.24 L419.01 394.25 L420.18 394.25 L421.35 394.26 L422.51 394.27 L423.68 394.28 L424.84 394.3 L426.01 394.31 L427.17 394.32 L428.34 394.33 L429.5 394.34 L430.67 394.36 L431.84 394.37 L433 394.39 L434.17 394.41 L435.33 394.42 L436.5 394.44 L437.66 394.46 L438.83 394.48 L439.99 394.5 L441.16 394.52 L442.33 394.55 L443.49 394.57 L444.66 394.6 L445.82 394.63 L446.99 394.65 L448.15 394.69 L449.32 394.72 L450.48 394.75 L451.65 394.79 L452.82 394.82 L453.98 394.86 L455.15 394.9 L456.31 394.95 L457.48 394.99 L458.64 395.04 L459.81 395.09 L460.97 395.14 L462.14 395.2 L463.31 395.26 L464.47 395.32 L465.64 395.38 L466.8 395.45 L467.97 395.52 L469.13 395.6 L470.3 395.68 L471.46 395.76 L472.63 395.85 L473.79 395.94 L474.96 396.03 L476.13 396.13 L477.29 396.24 L478.46 396.35 L479.62 396.46 L480.79 396.58 L481.95 396.71 L483.12 396.84 L484.28 396.98 L485.45 397.13 L486.62 397.28 L487.78 397.44 L488.95 397.61 L490.11 397.78 L491.28 397.96 L492.44 398.15 L493.61 398.35 L494.77 398.56 L495.94 398.78 L497.11 399.01 L498.27 399.24 L499.44 399.49 L500.6 399.74 L501.77 400.01 L502.93 400.29 L504.1 400.58 L505.26 400.88 L506.43 401.19 L507.6 401.51 L508.76 401.85 L509.93 402.19 L511.09 402.55 L512.26 402.93 L513.42 403.31 L514.59 403.71 L515.75 404.12 L516.92 404.54 L518.09 404.98 L519.25 405.43 L520.42 405.89 L521.58 406.37 L522.75 406.86 L523.91 407.36 L525.08 407.87 L526.24 408.39 L527.41 408.93 L528.58 409.48 L529.74 410.04 L530.91 410.6 L532.07 411.18 L533.24 411.77 L534.4 412.37 L535.57 412.97 L536.73 413.59 L537.9 414.21" stroke="#F0C070" stroke-width="1" fill="none"/>
<path d="M399.2 393.29L402.79 400.04L395.61 400.04Z" fill="#7F9DF7" stroke="#000" stroke-width="1.4" stroke-linejoin="miter"/>
<path d="M414.61 390.29L418.2 397.04L411.02 397.04Z" fill="#7F9DF7" stroke="#000" stroke-width="1.4" stroke-linejoin="miter"/>
<path d="M430.02 390.29L433.61 397.04L426.43 397.04Z" fill="#7F9DF7" stroke="#000" stroke-width="1.4" stroke-linejoin="miter"/>
<path d="M445.43 390.29L449.02 397.04L441.84 397.04Z" fill="#7F9DF7" stroke="#000" stroke-width="1.4" stroke-linejoin="miter"/>
<path d="M460.84 390.29L464.43 397.04L457.25 397.04Z" fill="#7F9DF7" stroke="#000" stroke-width="1.4" stroke-linejoin="miter"/>
<path d="M476.25 395.29L479.84 402.04L472.66 402.04Z" fill="#7F9DF7" stroke="#000" stroke-width="1.4" stroke-linejoin="miter"/>
<path d="M491.66 397.29L495.25 404.04L488.07 404.04Z" fill="#7F9DF7" stroke="#000" stroke-width="1.4" stroke-linejoin="miter"/>
<path d="M507.07 429.79L510.66 436.54L503.48 436.54Z" fill="#7F9DF7" stroke="#000" stroke-width="1.4" stroke-linejoin="miter"/>
<path d="M522.48 451.29L526.07 458.04L518.89 458.04Z" fill="#7F9DF7" stroke="#000" stroke-width="1.4" stroke-linejoin="miter"/>
<path d="M537.89 471.49L541.48 478.24L534.3 478.24Z" fill="#7F9DF7" stroke="#000" stroke-width="1.4" stroke-linejoin="miter"/>
<path d="M460.84 380.5V394.5M456.34 380.5H465.34M456.34 394.5H465.34" stroke="#111" stroke-width="1.25" fill="none"/>
<path d="M507.07 416.5V428.5M502.57 416.5H511.57M502.57 428.5H511.57" stroke="#111" stroke-width="1.25" fill="none"/>
<rect x="395.41" y="394.21" width="7.57" height="7.57" fill="#A152EE" stroke="#000" stroke-width="1.4"/>
<rect x="410.82" y="389.21" width="7.57" height="7.57" fill="#A152EE" stroke="#000" stroke-width="1.4"/>
<rect x="426.23" y="387.61" width="7.57" height="7.57" fill="#A152EE" stroke="#000" stroke-width="1.4"/>
<rect x="441.64" y="387.61" width="7.57" height="7.57" fill="#A152EE" stroke="#000" stroke-width="1.4"/>
<rect x="457.05" y="385.81" width="7.57" height="7.57" fill="#A152EE" stroke="#000" stroke-width="1.4"/>
<rect x="472.46" y="393.61" width="7.57" height="7.57" fill="#A152EE" stroke="#000" stroke-width="1.4"/>
<rect x="487.87" y="395.21" width="7.57" height="7.57" fill="#A152EE" stroke="#000" stroke-width="1.4"/>
<rect x="503.28" y="419.41" width="7.57" height="7.57" fill="#A152EE" stroke="#000" stroke-width="1.4"/>
<rect x="518.7" y="445.21" width="7.57" height="7.57" fill="#A152EE" stroke="#000" stroke-width="1.4"/>
<rect x="534.11" y="463.91" width="7.57" height="7.57" fill="#A152EE" stroke="#000" stroke-width="1.4"/>
<path d="M460.84 410.5V422.5M456.34 410.5H465.34M456.34 422.5H465.34" stroke="#111" stroke-width="1.25" fill="none"/>
<path d="M491.66 452.5V464.5M487.16 452.5H496.16M487.16 464.5H496.16" stroke="#111" stroke-width="1.25" fill="none"/>
<path d="M399.2 393.31L403.59 397.7L399.2 402.09L394.81 397.7Z" fill="#E85A28"/>
<path d="M414.61 392.61L419 397L414.61 401.39L410.22 397Z" fill="#E85A28"/>
<path d="M430.02 392.61L434.41 397L430.02 401.39L425.62 397Z" fill="#E85A28"/>
<path d="M445.43 398.61L449.82 403L445.43 407.39L441.04 403Z" fill="#E85A28"/>
<path d="M460.84 412.5L465.23 416.9L460.84 421.29L456.44 416.9Z" fill="#E85A28"/>
<path d="M476.25 433.61L480.64 438L476.25 442.39L471.86 438Z" fill="#E85A28"/>
<path d="M491.66 454.21L496.05 458.6L491.66 463L487.26 458.6Z" fill="#E85A28"/>
<path d="M507.07 464.21L511.46 468.6L507.07 473L502.68 468.6Z" fill="#E85A28"/>
<path d="M522.48 472.61L526.88 477L522.48 481.39L518.09 477Z" fill="#E85A28"/>
<path d="M537.89 475.5L542.28 479.9L537.89 484.29L533.5 479.9Z" fill="#E85A28"/>
<circle cx="399.2" cy="398" r="3" fill="#9A1A16" stroke="#000" stroke-width="1.4"/>
<circle cx="414.61" cy="397" r="3" fill="#9A1A16" stroke="#000" stroke-width="1.4"/>
<circle cx="430.02" cy="397" r="3" fill="#9A1A16" stroke="#000" stroke-width="1.4"/>
<circle cx="445.43" cy="403" r="3" fill="#9A1A16" stroke="#000" stroke-width="1.4"/>
<circle cx="460.84" cy="414" r="3" fill="#9A1A16" stroke="#000" stroke-width="1.4"/>
<circle cx="476.25" cy="447.9" r="3" fill="#9A1A16" stroke="#000" stroke-width="1.4"/>
<circle cx="491.66" cy="460" r="3" fill="#9A1A16" stroke="#000" stroke-width="1.4"/>
<circle cx="507.07" cy="475.2" r="3" fill="#9A1A16" stroke="#000" stroke-width="1.4"/>
<circle cx="522.48" cy="477" r="3" fill="#9A1A16" stroke="#000" stroke-width="1.4"/>
<circle cx="537.89" cy="482" r="3" fill="#9A1A16" stroke="#000" stroke-width="1.4"/>
<path d="M476.25 418.5V430.5M471.75 418.5H480.75M471.75 430.5H480.75" stroke="#111" stroke-width="1.25" fill="none"/>
<path d="M491.66 436.5V448.5M487.16 436.5H496.16M487.16 448.5H496.16" stroke="#111" stroke-width="1.25" fill="none"/>
<circle cx="399.2" cy="398" r="3" fill="#000" stroke="#000" stroke-width="1.4"/>
<circle cx="414.61" cy="398" r="3" fill="#000" stroke="#000" stroke-width="1.4"/>
<circle cx="430.02" cy="398" r="3" fill="#000" stroke="#000" stroke-width="1.4"/>
<circle cx="445.43" cy="403.2" r="3" fill="#000" stroke="#000" stroke-width="1.4"/>
<circle cx="460.84" cy="409.4" r="3" fill="#000" stroke="#000" stroke-width="1.4"/>
<circle cx="476.25" cy="424.5" r="3" fill="#000" stroke="#000" stroke-width="1.4"/>
<circle cx="491.66" cy="442.4" r="3" fill="#000" stroke="#000" stroke-width="1.4"/>
<circle cx="507.07" cy="459.4" r="3" fill="#000" stroke="#000" stroke-width="1.4"/>
<circle cx="522.48" cy="475" r="3" fill="#000" stroke="#000" stroke-width="1.4"/>
<circle cx="537.89" cy="486" r="3" fill="#000" stroke="#000" stroke-width="1.4"/>
<path d="M399.2 387.5V408.5M395.69 387.5H402.71M395.69 408.5H402.71" stroke="#111" stroke-width="1.25" fill="none"/>
<path d="M399.2 390.5V404.5M395.69 390.5H402.71M395.69 404.5H402.71" stroke="#111" stroke-width="1.25" fill="none"/>
<path d="M414.61 377.5V404.5M411.1 377.5H418.12M411.1 404.5H418.12" stroke="#111" stroke-width="1.25" fill="none"/>
<path d="M430.02 382.5V409.5M426.51 382.5H433.53M426.51 409.5H433.53" stroke="#111" stroke-width="1.25" fill="none"/>
<path d="M445.43 382.5V412.5M441.92 382.5H448.94M441.92 412.5H448.94" stroke="#111" stroke-width="1.25" fill="none"/>
<path d="M507.07 392.5V412.5M503.56 392.5H510.58M503.56 412.5H510.58" stroke="#111" stroke-width="1.25" fill="none"/>
<path d="M537.89 406.5V421.5M534.38 406.5H541.4M534.38 421.5H541.4" stroke="#111" stroke-width="1.25" fill="none"/>
<circle cx="399.2" cy="397.8" r="2.81" fill="#F09A2C"/>
<circle cx="414.61" cy="395.4" r="2.81" fill="#F09A2C"/>
<circle cx="430.02" cy="389" r="2.81" fill="#F09A2C"/>
<circle cx="445.43" cy="396" r="2.81" fill="#F09A2C"/>
<circle cx="460.84" cy="391.4" r="2.81" fill="#F09A2C"/>
<circle cx="476.25" cy="399.3" r="2.81" fill="#F09A2C"/>
<circle cx="491.66" cy="397.6" r="2.81" fill="#F09A2C"/>
<circle cx="507.07" cy="402" r="2.81" fill="#F09A2C"/>
<circle cx="522.48" cy="406" r="2.81" fill="#F09A2C"/>
<circle cx="537.89" cy="414.4" r="2.81" fill="#F09A2C"/>
<text x="208.2" y="626.6" font-size="14.2" font-weight="bold" text-anchor="middle" fill="#161616" stroke="#161616" stroke-width="0.4" textLength="64.4" lengthAdjust="spacingAndGlyphs" >NCI-H522</text>
<text x="206.7" y="644.3" font-size="13.2" font-weight="normal" text-anchor="middle" fill="#161616" stroke="#161616" stroke-width="0.32" textLength="156.5" lengthAdjust="spacingAndGlyphs" >(SMARCA2/A4-deficient)</text>
<path d="M129.6 660.5V814.2" stroke="#444" stroke-width="1.2" fill="none"/>
<path d="M123.1 813.6H284.2" stroke="#444" stroke-width="1.2" fill="none"/>
<path d="M123.1 813.6H129.6" stroke="#444" stroke-width="1.2"/>
<text x="121.2" y="817.6" font-size="12.2" font-weight="normal" text-anchor="end" fill="#161616" stroke="#161616" stroke-width="0.32" >0</text>
<path d="M123.1 781.6H129.6" stroke="#444" stroke-width="1.2"/>
<text x="121.2" y="785.6" font-size="12.2" font-weight="normal" text-anchor="end" fill="#161616" stroke="#161616" stroke-width="0.32" >25</text>
<path d="M123.1 749.6H129.6" stroke="#444" stroke-width="1.2"/>
<text x="121.2" y="753.6" font-size="12.2" font-weight="normal" text-anchor="end" fill="#161616" stroke="#161616" stroke-width="0.32" >50</text>
<path d="M123.1 717.6H129.6" stroke="#444" stroke-width="1.2"/>
<text x="121.2" y="721.6" font-size="12.2" font-weight="normal" text-anchor="end" fill="#161616" stroke="#161616" stroke-width="0.32" >75</text>
<path d="M123.1 685.6H129.6" stroke="#444" stroke-width="1.2"/>
<text x="121.2" y="689.6" font-size="12.2" font-weight="normal" text-anchor="end" fill="#161616" stroke="#161616" stroke-width="0.32" >100</text>
<path d="M155.14 813.6V819.8" stroke="#444" stroke-width="1.2"/>
<text x="155.14" y="834.5" font-size="12.2" font-weight="normal" text-anchor="middle" fill="#161616" stroke="#161616" stroke-width="0.32" >-1</text>
<path d="M187.19 813.6V819.8" stroke="#444" stroke-width="1.2"/>
<text x="187.19" y="834.5" font-size="12.2" font-weight="normal" text-anchor="middle" fill="#161616" stroke="#161616" stroke-width="0.32" >0</text>
<path d="M219.24 813.6V819.8" stroke="#444" stroke-width="1.2"/>
<text x="219.24" y="834.5" font-size="12.2" font-weight="normal" text-anchor="middle" fill="#161616" stroke="#161616" stroke-width="0.32" >1</text>
<path d="M251.29 813.6V819.8" stroke="#444" stroke-width="1.2"/>
<text x="251.29" y="834.5" font-size="12.2" font-weight="normal" text-anchor="middle" fill="#161616" stroke="#161616" stroke-width="0.32" >2</text>
<path d="M283.34 813.6V819.8" stroke="#444" stroke-width="1.2"/>
<text x="283.34" y="834.5" font-size="12.2" font-weight="normal" text-anchor="middle" fill="#161616" stroke="#161616" stroke-width="0.32" >3</text>
<text transform="translate(91.6 736.05) rotate(-90)" font-size="14.4" font-weight="bold" text-anchor="middle" fill="#161616" stroke="#161616" stroke-width="0.4" textLength="69.7" lengthAdjust="spacingAndGlyphs" >% viability</text>
<text x="206.5" y="855.5" font-size="13.6" font-weight="bold" text-anchor="middle" fill="#161616" stroke="#161616" stroke-width="0.4" textLength="53" lengthAdjust="spacingAndGlyphs" >[log nM]</text>
<path d="M129.6 688.01 L130.77 688.01 L131.93 688.01 L133.1 688.01 L134.26 688.01 L135.43 688.01 L136.59 688.01 L137.76 688.01 L138.92 688.01 L140.09 688.01 L141.26 688.01 L142.42 688.02 L143.59 688.02 L144.75 688.02 L145.92 688.02 L147.08 688.02 L148.25 688.02 L149.41 688.03 L150.58 688.03 L151.75 688.03 L152.91 688.03 L154.08 688.04 L155.24 688.04 L156.41 688.04 L157.57 688.05 L158.74 688.05 L159.9 688.06 L161.07 688.06 L162.24 688.07 L163.4 688.07 L164.57 688.08 L165.73 688.08 L166.9 688.09 L168.06 688.1 L169.23 688.11 L170.39 688.12 L171.56 688.13 L172.73 688.14 L173.89 688.15 L175.06 688.16 L176.22 688.18 L177.39 688.19 L178.55 688.21 L179.72 688.23 L180.88 688.25 L182.05 688.27 L183.22 688.29 L184.38 688.31 L185.55 688.34 L186.71 688.37 L187.88 688.4 L189.04 688.43 L190.21 688.47 L191.37 688.51 L192.54 688.55 L193.71 688.6 L194.87 688.65 L196.04 688.71 L197.2 688.76 L198.37 688.83 L199.53 688.89 L200.7 688.97 L201.86 689.05 L203.03 689.13 L204.19 689.22 L205.36 689.32 L206.53 689.43 L207.69 689.54 L208.86 689.66 L210.02 689.79 L211.19 689.93 L212.35 690.07 L213.52 690.23 L214.68 690.39 L215.85 690.57 L217.02 690.76 L218.18 690.96 L219.35 691.16 L220.51 691.38 L221.68 691.62 L222.84 691.86 L224.01 692.11 L225.17 692.38 L226.34 692.65 L227.51 692.94 L228.67 693.24 L229.84 693.54 L231 693.86 L232.17 694.18 L233.33 694.51 L234.5 694.85 L235.66 695.19 L236.83 695.54 L238 695.89 L239.16 696.25 L240.33 696.6 L241.49 696.95 L242.66 697.3 L243.82 697.65 L244.99 698 L246.15 698.34 L247.32 698.67 L248.49 699 L249.65 699.32 L250.82 699.63 L251.98 699.93 L253.15 700.22 L254.31 700.5 L255.48 700.77 L256.64 701.03 L257.81 701.28 L258.98 701.52 L260.14 701.74 L261.31 701.95 L262.47 702.16 L263.64 702.35 L264.8 702.53 L265.97 702.7 L267.13 702.86 L268.3 703.01" stroke="#7F98E0" stroke-width="1" fill="none" stroke-dasharray="4 2"/>
<path d="M129.6 681.5 L130.77 681.5 L131.93 681.5 L133.1 681.5 L134.26 681.5 L135.43 681.5 L136.59 681.5 L137.76 681.5 L138.92 681.5 L140.09 681.5 L141.26 681.5 L142.42 681.5 L143.59 681.5 L144.75 681.5 L145.92 681.5 L147.08 681.5 L148.25 681.5 L149.41 681.5 L150.58 681.5 L151.75 681.5 L152.91 681.5 L154.08 681.5 L155.24 681.5 L156.41 681.5 L157.57 681.5 L158.74 681.5 L159.9 681.5 L161.07 681.5 L162.24 681.5 L163.4 681.5 L164.57 681.5 L165.73 681.5 L166.9 681.5 L168.06 681.5 L169.23 681.5 L170.39 681.5 L171.56 681.5 L172.73 681.5 L173.89 681.5 L175.06 681.5 L176.22 681.5 L177.39 681.5 L178.55 681.5 L179.72 681.5 L180.88 681.5 L182.05 681.5 L183.22 681.5 L184.38 681.5 L185.55 681.5 L186.71 681.5 L187.88 681.5 L189.04 681.5 L190.21 681.5 L191.37 681.5 L192.54 681.5 L193.71 681.5 L194.87 681.5 L196.04 681.5 L197.2 681.5 L198.37 681.5 L199.53 681.5 L200.7 681.5 L201.86 681.5 L203.03 681.5 L204.19 681.5 L205.36 681.5 L206.53 681.5 L207.69 681.5 L208.86 681.5 L210.02 681.5 L211.19 681.5 L212.35 681.5 L213.52 681.5 L214.68 681.5 L215.85 681.5 L217.02 681.5 L218.18 681.5 L219.35 681.5 L220.51 681.5 L221.68 681.5 L222.84 681.5 L224.01 681.5 L225.17 681.5 L226.34 681.5 L227.51 681.5 L228.67 681.51 L229.84 681.51 L231 681.51 L232.17 681.51 L233.33 681.52 L234.5 681.53 L235.66 681.53 L236.83 681.55 L238 681.56 L239.16 681.58 L240.33 681.61 L241.49 681.64 L242.66 681.69 L243.82 681.76 L244.99 681.84 L246.15 681.96 L247.32 682.11 L248.49 682.31 L249.65 682.57 L250.82 682.91 L251.98 683.35 L253.15 683.92 L254.31 684.63 L255.48 685.51 L256.64 686.59 L257.81 687.86 L258.98 689.33 L260.14 690.95 L261.31 692.69 L262.47 694.47 L263.64 696.22 L264.8 697.88 L265.97 699.37 L267.13 700.69 L268.3 701.8" stroke="#9272D4" stroke-width="1.6" fill="none"/>
<path d="M129.6 683 L130.77 683 L131.93 683 L133.1 683 L134.26 683 L135.43 683 L136.59 683 L137.76 683 L138.92 683 L140.09 683 L141.26 683 L142.42 683 L143.59 683 L144.75 683 L145.92 683 L147.08 683 L148.25 683 L149.41 683 L150.58 683 L151.75 683 L152.91 683 L154.08 683 L155.24 683 L156.41 683 L157.57 683 L158.74 683 L159.9 683 L161.07 683 L162.24 683 L163.4 683 L164.57 683 L165.73 683 L166.9 683 L168.06 683 L169.23 683 L170.39 683 L171.56 683 L172.73 683 L173.89 683 L175.06 683 L176.22 683 L177.39 683 L178.55 683 L179.72 683 L180.88 683 L182.05 683 L183.22 683 L184.38 683 L185.55 683 L186.71 683 L187.88 683 L189.04 683 L190.21 683 L191.37 683 L192.54 683 L193.71 683 L194.87 683 L196.04 683 L197.2 683 L198.37 683 L199.53 683 L200.7 683 L201.86 683 L203.03 683 L204.19 683 L205.36 683 L206.53 683 L207.69 683 L208.86 683.01 L210.02 683.01 L211.19 683.01 L212.35 683.01 L213.52 683.01 L214.68 683.01 L215.85 683.02 L217.02 683.02 L218.18 683.02 L219.35 683.03 L220.51 683.04 L221.68 683.04 L222.84 683.05 L224.01 683.07 L225.17 683.08 L226.34 683.1 L227.51 683.12 L228.67 683.14 L229.84 683.17 L231 683.21 L232.17 683.25 L233.33 683.31 L234.5 683.37 L235.66 683.45 L236.83 683.54 L238 683.65 L239.16 683.79 L240.33 683.95 L241.49 684.14 L242.66 684.37 L243.82 684.64 L244.99 684.95 L246.15 685.32 L247.32 685.74 L248.49 686.23 L249.65 686.78 L250.82 687.41 L251.98 688.1 L253.15 688.86 L254.31 689.67 L255.48 690.53 L256.64 691.43 L257.81 692.35 L258.98 693.27 L260.14 694.18 L261.31 695.05 L262.47 695.89 L263.64 696.66 L264.8 697.37 L265.97 698.02 L267.13 698.6 L268.3 699.11" stroke="#000" stroke-width="1.1" fill="none"/>
<path d="M129.6 683.5 L130.77 683.5 L131.93 683.5 L133.1 683.5 L134.26 683.5 L135.43 683.5 L136.59 683.5 L137.76 683.5 L138.92 683.5 L140.09 683.5 L141.26 683.5 L142.42 683.5 L143.59 683.5 L144.75 683.5 L145.92 683.5 L147.08 683.5 L148.25 683.5 L149.41 683.5 L150.58 683.5 L151.75 683.5 L152.91 683.5 L154.08 683.5 L155.24 683.5 L156.41 683.5 L157.57 683.5 L158.74 683.5 L159.9 683.5 L161.07 683.5 L162.24 683.5 L163.4 683.5 L164.57 683.5 L165.73 683.5 L166.9 683.5 L168.06 683.5 L169.23 683.5 L170.39 683.5 L171.56 683.5 L172.73 683.5 L173.89 683.5 L175.06 683.5 L176.22 683.5 L177.39 683.5 L178.55 683.5 L179.72 683.5 L180.88 683.5 L182.05 683.5 L183.22 683.5 L184.38 683.5 L185.55 683.5 L186.71 683.5 L187.88 683.5 L189.04 683.5 L190.21 683.5 L191.37 683.5 L192.54 683.5 L193.71 683.5 L194.87 683.5 L196.04 683.5 L197.2 683.5 L198.37 683.5 L199.53 683.5 L200.7 683.5 L201.86 683.5 L203.03 683.5 L204.19 683.51 L205.36 683.51 L206.53 683.51 L207.69 683.51 L208.86 683.51 L210.02 683.51 L211.19 683.52 L212.35 683.52 L213.52 683.52 L214.68 683.52 L215.85 683.53 L217.02 683.53 L218.18 683.54 L219.35 683.55 L220.51 683.56 L221.68 683.57 L222.84 683.58 L224.01 683.59 L225.17 683.61 L226.34 683.63 L227.51 683.65 L228.67 683.68 L229.84 683.72 L231 683.75 L232.17 683.8 L233.33 683.85 L234.5 683.91 L235.66 683.99 L236.83 684.07 L238 684.18 L239.16 684.29 L240.33 684.43 L241.49 684.59 L242.66 684.78 L243.82 684.99 L244.99 685.24 L246.15 685.52 L247.32 685.85 L248.49 686.22 L249.65 686.64 L250.82 687.12 L251.98 687.65 L253.15 688.23 L254.31 688.88 L255.48 689.58 L256.64 690.33 L257.81 691.13 L258.98 691.96 L260.14 692.83 L261.31 693.72 L262.47 694.61 L263.64 695.5 L264.8 696.37 L265.97 697.22 L267.13 698.02 L268.3 698.79" stroke="#7E3E38" stroke-width="1.2" fill="none"/>
<path d="M129.6 675.7 L130.77 675.7 L131.93 675.7 L133.1 675.7 L134.26 675.7 L135.43 675.7 L136.59 675.7 L137.76 675.7 L138.92 675.7 L140.09 675.7 L141.26 675.7 L142.42 675.7 L143.59 675.7 L144.75 675.7 L145.92 675.7 L147.08 675.7 L148.25 675.7 L149.41 675.7 L150.58 675.7 L151.75 675.7 L152.91 675.7 L154.08 675.7 L155.24 675.7 L156.41 675.7 L157.57 675.7 L158.74 675.7 L159.9 675.7 L161.07 675.7 L162.24 675.7 L163.4 675.7 L164.57 675.7 L165.73 675.7 L166.9 675.7 L168.06 675.7 L169.23 675.7 L170.39 675.7 L171.56 675.7 L172.73 675.7 L173.89 675.7 L175.06 675.7 L176.22 675.7 L177.39 675.7 L178.55 675.7 L179.72 675.7 L180.88 675.7 L182.05 675.7 L183.22 675.7 L184.38 675.7 L185.55 675.7 L186.71 675.7 L187.88 675.7 L189.04 675.7 L190.21 675.7 L191.37 675.7 L192.54 675.7 L193.71 675.7 L194.87 675.7 L196.04 675.7 L197.2 675.7 L198.37 675.7 L199.53 675.7 L200.7 675.7 L201.86 675.7 L203.03 675.7 L204.19 675.7 L205.36 675.7 L206.53 675.7 L207.69 675.7 L208.86 675.7 L210.02 675.7 L211.19 675.7 L212.35 675.7 L213.52 675.7 L214.68 675.7 L215.85 675.7 L217.02 675.7 L218.18 675.7 L219.35 675.7 L220.51 675.7 L221.68 675.7 L222.84 675.7 L224.01 675.7 L225.17 675.7 L226.34 675.7 L227.51 675.7 L228.67 675.7 L229.84 675.7 L231 675.7 L232.17 675.7 L233.33 675.7 L234.5 675.7 L235.66 675.7 L236.83 675.7 L238 675.7 L239.16 675.7 L240.33 675.71 L241.49 675.71 L242.66 675.71 L243.82 675.71 L244.99 675.72 L246.15 675.72 L247.32 675.73 L248.49 675.74 L249.65 675.76 L250.82 675.77 L251.98 675.8 L253.15 675.83 L254.31 675.87 L255.48 675.91 L256.64 675.97 L257.81 676.04 L258.98 676.12 L260.14 676.2 L261.31 676.29 L262.47 676.39 L263.64 676.48 L264.8 676.57 L265.97 676.65 L267.13 676.72 L268.3 676.78" stroke="#DE7A4A" stroke-width="1.6" fill="none"/>
<path d="M129.6 679 L130.77 679 L131.93 679 L133.1 679 L134.26 679 L135.43 679 L136.59 679 L137.76 679 L138.92 679 L140.09 679 L141.26 679 L142.42 679 L143.59 679 L144.75 679 L145.92 679 L147.08 679 L148.25 679 L149.41 679 L150.58 679 L151.75 679 L152.91 679 L154.08 679 L155.24 679 L156.41 679 L157.57 679 L158.74 679 L159.9 679 L161.07 679 L162.24 679 L163.4 679 L164.57 679 L165.73 679 L166.9 679 L168.06 679 L169.23 679 L170.39 679 L171.56 679 L172.73 679 L173.89 679 L175.06 679 L176.22 679 L177.39 679 L178.55 679 L179.72 679 L180.88 679 L182.05 679 L183.22 679 L184.38 679 L185.55 679 L186.71 679 L187.88 679 L189.04 679 L190.21 679 L191.37 679 L192.54 679 L193.71 679 L194.87 679 L196.04 679 L197.2 679 L198.37 679 L199.53 679 L200.7 679 L201.86 679 L203.03 679 L204.19 679 L205.36 679 L206.53 679 L207.69 679 L208.86 679 L210.02 679 L211.19 679 L212.35 679 L213.52 679 L214.68 679 L215.85 679 L217.02 679 L218.18 679 L219.35 679 L220.51 679 L221.68 679 L222.84 679 L224.01 679 L225.17 679 L226.34 679 L227.51 679 L228.67 679 L229.84 679 L231 679 L232.17 679.01 L233.33 679.01 L234.5 679.01 L235.66 679.02 L236.83 679.02 L238 679.03 L239.16 679.04 L240.33 679.05 L241.49 679.06 L242.66 679.09 L243.82 679.12 L244.99 679.15 L246.15 679.21 L247.32 679.27 L248.49 679.36 L249.65 679.48 L250.82 679.63 L251.98 679.83 L253.15 680.08 L254.31 680.4 L255.48 680.8 L256.64 681.28 L257.81 681.86 L258.98 682.51 L260.14 683.24 L261.31 684.02 L262.47 684.82 L263.64 685.61 L264.8 686.35 L265.97 687.02 L267.13 687.61 L268.3 688.11" stroke="#F0C070" stroke-width="1" fill="none"/>
<path d="M160.42 684.5V700.5M155.92 684.5H164.92M155.92 700.5H164.92" stroke="#111" stroke-width="1.25" fill="none"/>
<path d="M206.65 692.5V708.5M202.15 692.5H211.15M202.15 708.5H211.15" stroke="#111" stroke-width="1.25" fill="none"/>
<path d="M222.06 668.5V700.5M217.56 668.5H226.56M217.56 700.5H226.56" stroke="#111" stroke-width="1.25" fill="none"/>
<path d="M252.88 666.5V714.5M248.38 666.5H257.38M248.38 714.5H257.38" stroke="#111" stroke-width="1.25" fill="none"/>
<path d="M268.29 694.5V716.5M263.79 694.5H272.79M263.79 716.5H272.79" stroke="#111" stroke-width="1.25" fill="none"/>
<path d="M129.6 686.29L133.19 693.04L126.01 693.04Z" fill="#7F9DF7" stroke="#000" stroke-width="1.4" stroke-linejoin="miter"/>
<path d="M145.01 688.29L148.6 695.04L141.42 695.04Z" fill="#7F9DF7" stroke="#000" stroke-width="1.4" stroke-linejoin="miter"/>
<path d="M160.42 687.79L164.01 694.54L156.83 694.54Z" fill="#7F9DF7" stroke="#000" stroke-width="1.4" stroke-linejoin="miter"/>
<path d="M175.83 699.39L179.42 706.14L172.24 706.14Z" fill="#7F9DF7" stroke="#000" stroke-width="1.4" stroke-linejoin="miter"/>
<path d="M191.24 686.29L194.83 693.04L187.65 693.04Z" fill="#7F9DF7" stroke="#000" stroke-width="1.4" stroke-linejoin="miter"/>
<path d="M206.65 695.59L210.24 702.34L203.06 702.34Z" fill="#7F9DF7" stroke="#000" stroke-width="1.4" stroke-linejoin="miter"/>
<path d="M222.06 683.09L225.65 689.84L218.47 689.84Z" fill="#7F9DF7" stroke="#000" stroke-width="1.4" stroke-linejoin="miter"/>
<path d="M237.47 703.49L241.06 710.24L233.88 710.24Z" fill="#7F9DF7" stroke="#000" stroke-width="1.4" stroke-linejoin="miter"/>
<path d="M252.88 692.89L256.47 699.64L249.29 699.64Z" fill="#7F9DF7" stroke="#000" stroke-width="1.4" stroke-linejoin="miter"/>
<path d="M268.29 698.29L271.88 705.04L264.7 705.04Z" fill="#7F9DF7" stroke="#000" stroke-width="1.4" stroke-linejoin="miter"/>
<path d="M129.6 673.5V694.5M125.1 673.5H134.1M125.1 694.5H134.1" stroke="#111" stroke-width="1.25" fill="none"/>
<path d="M145.01 666.5V697.5M140.51 666.5H149.51M140.51 697.5H149.51" stroke="#111" stroke-width="1.25" fill="none"/>
<path d="M175.83 668.5V698.5M171.33 668.5H180.33M171.33 698.5H180.33" stroke="#111" stroke-width="1.25" fill="none"/>
<path d="M191.24 664.5V700.5M186.74 664.5H195.74M186.74 700.5H195.74" stroke="#111" stroke-width="1.25" fill="none"/>
<path d="M206.65 664.5V704.5M202.15 664.5H211.15M202.15 704.5H211.15" stroke="#111" stroke-width="1.25" fill="none"/>
<path d="M237.47 666.5V702.5M232.97 666.5H241.97M232.97 702.5H241.97" stroke="#111" stroke-width="1.25" fill="none"/>
<path d="M252.88 664.5V706.5M248.38 664.5H257.38M248.38 706.5H257.38" stroke="#111" stroke-width="1.25" fill="none"/>
<path d="M268.29 696.5V712.5M263.79 696.5H272.79M263.79 712.5H272.79" stroke="#111" stroke-width="1.25" fill="none"/>
<rect x="125.81" y="682.22" width="7.57" height="7.57" fill="#A152EE" stroke="#000" stroke-width="1.4"/>
<rect x="141.22" y="684.72" width="7.57" height="7.57" fill="#A152EE" stroke="#000" stroke-width="1.4"/>
<rect x="156.63" y="669.62" width="7.57" height="7.57" fill="#A152EE" stroke="#000" stroke-width="1.4"/>
<rect x="172.04" y="687.12" width="7.57" height="7.57" fill="#A152EE" stroke="#000" stroke-width="1.4"/>
<rect x="187.46" y="678.22" width="7.57" height="7.57" fill="#A152EE" stroke="#000" stroke-width="1.4"/>
<rect x="202.86" y="686.32" width="7.57" height="7.57" fill="#A152EE" stroke="#000" stroke-width="1.4"/>
<rect x="218.28" y="672.22" width="7.57" height="7.57" fill="#A152EE" stroke="#000" stroke-width="1.4"/>
<rect x="233.69" y="684.32" width="7.57" height="7.57" fill="#A152EE" stroke="#000" stroke-width="1.4"/>
<rect x="249.09" y="671.22" width="7.57" height="7.57" fill="#A152EE" stroke="#000" stroke-width="1.4"/>
<rect x="264.5" y="701.42" width="7.57" height="7.57" fill="#A152EE" stroke="#000" stroke-width="1.4"/>
<path d="M160.42 666.5V700.5M155.92 666.5H164.92M155.92 700.5H164.92" stroke="#111" stroke-width="1.25" fill="none"/>
<path d="M222.06 672.5V694.5M217.56 672.5H226.56M217.56 694.5H226.56" stroke="#111" stroke-width="1.25" fill="none"/>
<circle cx="129.6" cy="685" r="3" fill="#000" stroke="#000" stroke-width="1.4"/>
<circle cx="145.01" cy="683" r="3" fill="#000" stroke="#000" stroke-width="1.4"/>
<circle cx="160.42" cy="683.9" r="3" fill="#000" stroke="#000" stroke-width="1.4"/>
<circle cx="175.83" cy="682" r="3" fill="#000" stroke="#000" stroke-width="1.4"/>
<circle cx="191.24" cy="681" r="3" fill="#000" stroke="#000" stroke-width="1.4"/>
<circle cx="206.65" cy="683" r="3" fill="#000" stroke="#000" stroke-width="1.4"/>
<circle cx="222.06" cy="682" r="3" fill="#000" stroke="#000" stroke-width="1.4"/>
<circle cx="237.47" cy="683" r="3" fill="#000" stroke="#000" stroke-width="1.4"/>
<circle cx="252.88" cy="688" r="3" fill="#000" stroke="#000" stroke-width="1.4"/>
<circle cx="268.29" cy="700" r="3" fill="#000" stroke="#000" stroke-width="1.4"/>
<circle cx="129.6" cy="686" r="3" fill="#9A1A16" stroke="#000" stroke-width="1.4"/>
<circle cx="145.01" cy="683" r="3" fill="#9A1A16" stroke="#000" stroke-width="1.4"/>
<circle cx="160.42" cy="681" r="3" fill="#9A1A16" stroke="#000" stroke-width="1.4"/>
<circle cx="175.83" cy="683" r="3" fill="#9A1A16" stroke="#000" stroke-width="1.4"/>
<circle cx="191.24" cy="688.5" r="3" fill="#9A1A16" stroke="#000" stroke-width="1.4"/>
<circle cx="206.65" cy="685" r="3" fill="#9A1A16" stroke="#000" stroke-width="1.4"/>
<circle cx="222.06" cy="684" r="3" fill="#9A1A16" stroke="#000" stroke-width="1.4"/>
<circle cx="237.47" cy="686" r="3" fill="#9A1A16" stroke="#000" stroke-width="1.4"/>
<circle cx="252.88" cy="690.7" r="3" fill="#9A1A16" stroke="#000" stroke-width="1.4"/>
<circle cx="268.29" cy="698.6" r="3" fill="#9A1A16" stroke="#000" stroke-width="1.4"/>
<path d="M129.6 677.61L134 682L129.6 686.39L125.2 682Z" fill="#E85A28"/>
<path d="M145.01 673L149.41 677.4L145.01 681.79L140.61 677.4Z" fill="#E85A28"/>
<path d="M160.42 672.5L164.81 676.9L160.42 681.29L156.02 676.9Z" fill="#E85A28"/>
<path d="M175.83 675.4L180.22 679.8L175.83 684.19L171.43 679.8Z" fill="#E85A28"/>
<path d="M191.24 668.4L195.64 672.8L191.24 677.19L186.84 672.8Z" fill="#E85A28"/>
<path d="M206.65 666L211.04 670.4L206.65 674.79L202.25 670.4Z" fill="#E85A28"/>
<path d="M222.06 671.21L226.46 675.6L222.06 680L217.66 675.6Z" fill="#E85A28"/>
<path d="M237.47 666.61L241.87 671L237.47 675.39L233.07 671Z" fill="#E85A28"/>
<path d="M252.88 686.31L257.27 690.7L252.88 695.1L248.48 690.7Z" fill="#E85A28"/>
<path d="M268.29 687.61L272.68 692L268.29 696.39L263.89 692Z" fill="#E85A28"/>
<path d="M129.6 670.5V700.5M126.09 670.5H133.11M126.09 700.5H133.11" stroke="#111" stroke-width="1.25" fill="none"/>
<path d="M145.01 662.5V704.5M141.5 662.5H148.52M141.5 704.5H148.52" stroke="#111" stroke-width="1.25" fill="none"/>
<path d="M160.42 660.5V708.5M156.91 660.5H163.93M156.91 708.5H163.93" stroke="#111" stroke-width="1.25" fill="none"/>
<path d="M175.83 662.5V720.5M172.32 662.5H179.34M172.32 720.5H179.34" stroke="#111" stroke-width="1.25" fill="none"/>
<path d="M191.24 660.5V712.5M187.73 660.5H194.75M187.73 712.5H194.75" stroke="#111" stroke-width="1.25" fill="none"/>
<path d="M206.65 659.5V713.5M203.14 659.5H210.16M203.14 713.5H210.16" stroke="#111" stroke-width="1.25" fill="none"/>
<path d="M222.06 662.5V696.5M218.55 662.5H225.57M218.55 696.5H225.57" stroke="#111" stroke-width="1.25" fill="none"/>
<path d="M237.47 660.5V721.5M233.96 660.5H240.98M233.96 721.5H240.98" stroke="#111" stroke-width="1.25" fill="none"/>
<path d="M252.88 660.5V710.5M249.37 660.5H256.39M249.37 710.5H256.39" stroke="#111" stroke-width="1.25" fill="none"/>
<path d="M268.29 676.5V714.5M264.78 676.5H271.8M264.78 714.5H271.8" stroke="#111" stroke-width="1.25" fill="none"/>
<circle cx="129.6" cy="685" r="2.81" fill="#F09A2C"/>
<circle cx="145.01" cy="678.6" r="2.81" fill="#F09A2C"/>
<circle cx="160.42" cy="661.1" r="2.81" fill="#F09A2C"/>
<circle cx="175.83" cy="673.4" r="2.81" fill="#F09A2C"/>
<circle cx="191.24" cy="660" r="2.81" fill="#F09A2C"/>
<circle cx="206.65" cy="679.6" r="2.81" fill="#F09A2C"/>
<circle cx="222.06" cy="663.1" r="2.81" fill="#F09A2C"/>
<circle cx="237.47" cy="678.3" r="2.81" fill="#F09A2C"/>
<circle cx="252.88" cy="680.2" r="2.81" fill="#F09A2C"/>
<circle cx="268.29" cy="689.4" r="2.81" fill="#F09A2C"/>
<rect x="359.6" y="657.5" width="250.8" height="138.3" fill="none" stroke="#333" stroke-width="1.2"/>
<path d="M372 671.2H388" stroke="#F0C070" stroke-width="1.1"/>
<circle cx="380" cy="671.2" r="2.8" fill="#F09A2C"/>
<text x="396.6" y="676.2" font-size="15" font-weight="normal" text-anchor="start" fill="#161616" stroke="#161616" stroke-width="0.42" textLength="80.8" lengthAdjust="spacingAndGlyphs" >compound 7</text>
<path d="M372 692.6H388" stroke="#C8705A" stroke-width="1.1"/>
<path d="M380 688.5L384.1 692.6L380 696.7L375.9 692.6Z" fill="#E85A28"/>
<text x="396.6" y="697.6" font-size="15" font-weight="normal" text-anchor="start" fill="#161616" stroke="#161616" stroke-width="0.42" textLength="48.6" lengthAdjust="spacingAndGlyphs" >G-6599</text>
<path d="M372 714H388" stroke="#7E3E38" stroke-width="1.1"/>
<circle cx="380" cy="714" r="3.1" fill="#9A1A16" stroke="#000" stroke-width="1.4"/>
<text x="396.6" y="719" font-size="15" font-weight="normal" text-anchor="start" fill="#161616" stroke="#161616" stroke-width="0.42" textLength="33.5" lengthAdjust="spacingAndGlyphs" >A947</text>
<path d="M372 735.4H388" stroke="#9272D4" stroke-width="1.1"/>
<rect x="376.9" y="732.3" width="6.2" height="6.2" fill="#A152EE" stroke="#000" stroke-width="1.4"/>
<text x="396.6" y="740.4" font-size="15" font-weight="normal" text-anchor="start" fill="#161616" stroke="#161616" stroke-width="0.42" textLength="66.1" lengthAdjust="spacingAndGlyphs" >AU-15330</text>
<path d="M372 756.8H388" stroke="#7F98E0" stroke-width="1.1"/>
<path d="M380 753.6L383.1 759.42L376.9 759.42Z" fill="#7F9DF7" stroke="#000" stroke-width="1.4" stroke-linejoin="miter"/>
<text x="396.6" y="761.8" font-size="15" font-weight="normal" text-anchor="start" fill="#161616" stroke="#161616" stroke-width="0.42" textLength="39" lengthAdjust="spacingAndGlyphs" >ACBI1</text>
<path d="M372 778.2H388" stroke="#000" stroke-width="1.1"/>
<circle cx="380" cy="778.2" r="3.1" fill="#000" stroke="#000" stroke-width="1.4"/>
<text x="396.6" y="783.2" font-size="15" font-weight="normal" text-anchor="start" fill="#161616" stroke="#161616" stroke-width="0.42" textLength="58.4" lengthAdjust="spacingAndGlyphs" >FHD-286</text>
<path d="M472 706.7H478.6V764.7H472" stroke="#333" stroke-width="1.2" fill="none"/>
<path d="M472.8 772H478.6V784.8H472.8" stroke="#333" stroke-width="1.2" fill="none"/>
<text x="490.7" y="741.2" font-size="13.4" font-weight="normal" text-anchor="start" fill="#161616" stroke="#161616" stroke-width="0.6" textLength="52.5" lengthAdjust="spacingAndGlyphs" >PROTACs</text>
<text x="490.7" y="783.9" font-size="13" font-weight="normal" text-anchor="start" fill="#161616" stroke="#161616" stroke-width="0.55" textLength="95.9" lengthAdjust="spacingAndGlyphs" >ATPase inhibitor</text>
</svg>
</body></html>
